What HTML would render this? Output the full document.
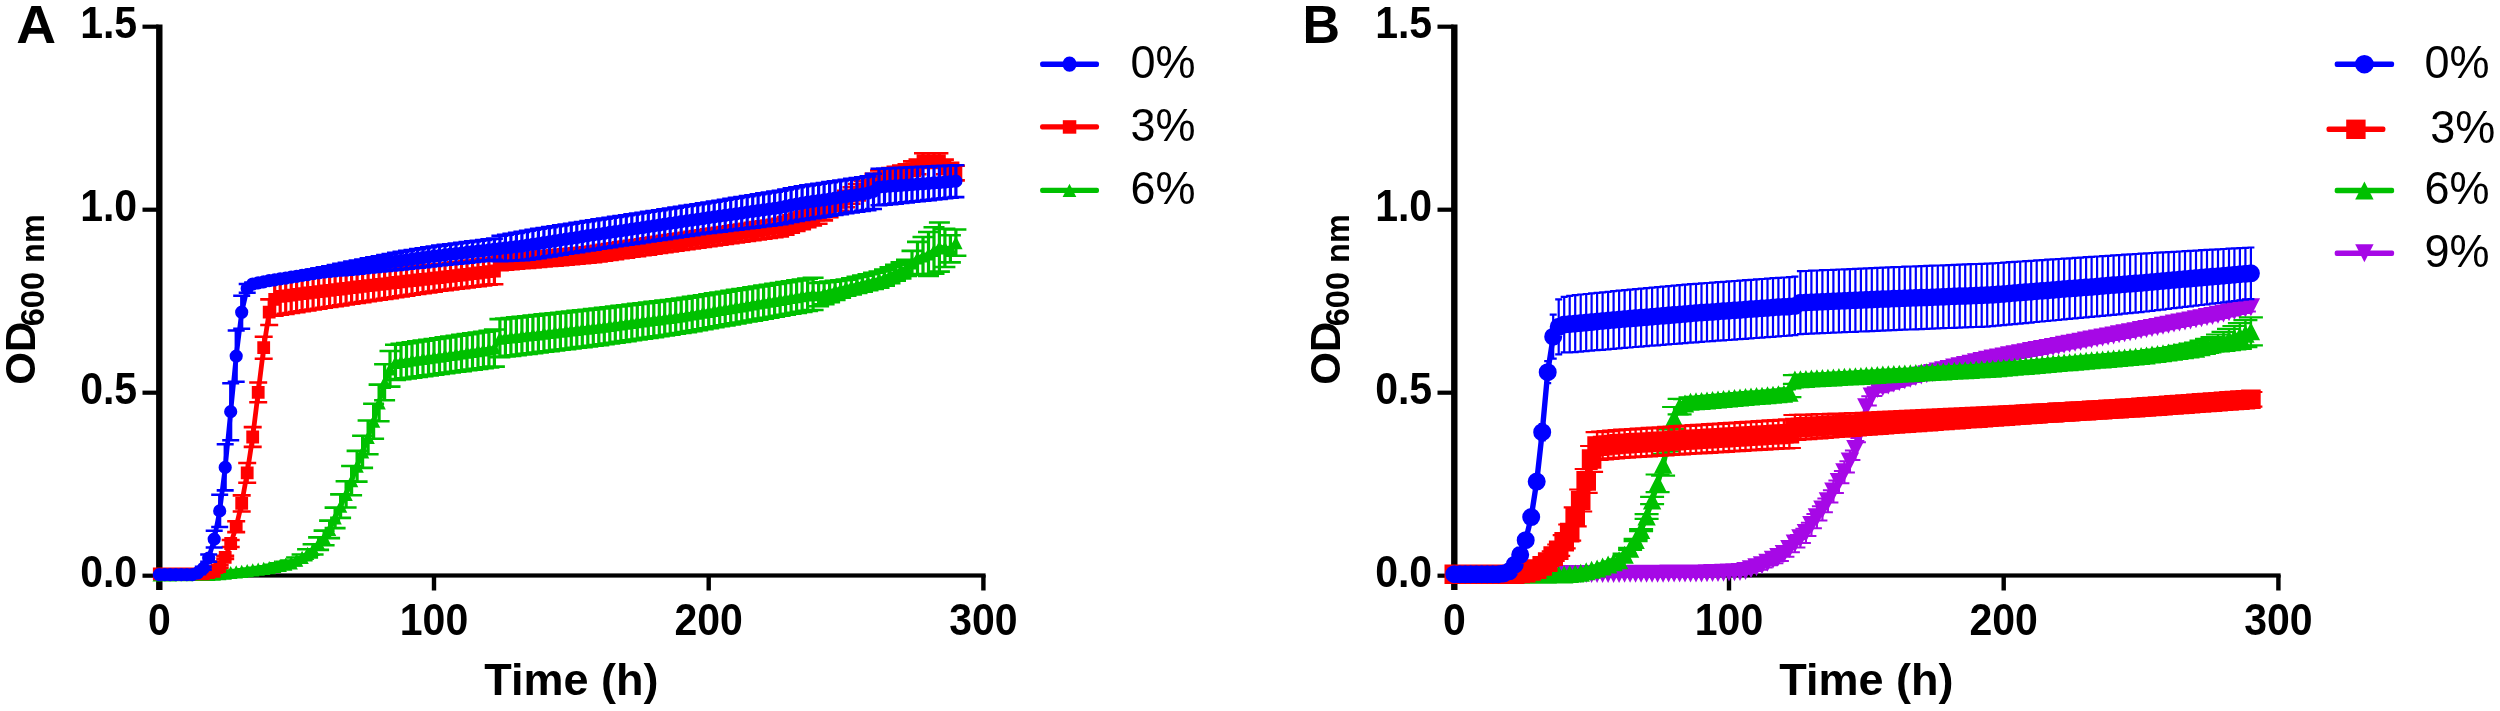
<!DOCTYPE html>
<html lang="en">
<head>
<meta charset="utf-8">
<title>Growth curves</title>
<style>
html,body{margin:0;padding:0;background:#fff;}
body{width:2500px;height:711px;overflow:hidden;}
svg{display:block;filter:blur(0.55px);}
text{font-family:"Liberation Sans",Arial,Helvetica,sans-serif;fill:#000;}
.tk{font-size:41px;font-weight:bold;}
.xt{font-size:45px;font-weight:bold;}
.yt{font-size:42px;font-weight:bold;}
.sub{font-size:32.5px;}
.pl{font-size:52px;font-weight:bold;}
.lg{font-size:45px;}
</style>
</head>
<body>
<svg width="2500" height="711" viewBox="0 0 2500 711">
<rect width="2500" height="711" fill="#fff"/>
<rect x="156.1" y="24.5" width="6.4" height="565.5" fill="#000"/>
<rect x="156.1" y="573.4" width="829.5" height="4.2" fill="#000"/>
<rect x="142.5" y="24.6" width="16" height="4.2" fill="#000"/>
<text transform="translate(137.1 38.2) scale(1 1.07)" class="tk" text-anchor="end">1.5</text>
<rect x="142.5" y="207.6" width="16" height="4.2" fill="#000"/>
<text transform="translate(137.1 221.2) scale(1 1.07)" class="tk" text-anchor="end">1.0</text>
<rect x="142.5" y="390.6" width="16" height="4.2" fill="#000"/>
<text transform="translate(137.1 404.2) scale(1 1.07)" class="tk" text-anchor="end">0.5</text>
<rect x="142.5" y="573.6" width="16" height="4.2" fill="#000"/>
<text transform="translate(137.1 587.2) scale(1 1.07)" class="tk" text-anchor="end">0.0</text>
<text transform="translate(159.3 635.3) scale(1 1.07)" class="tk" text-anchor="middle">0</text>
<rect x="431.8" y="575" width="4.4" height="15.5" fill="#000"/>
<text transform="translate(434 635.3) scale(1 1.07)" class="tk" text-anchor="middle">100</text>
<rect x="706.5" y="575" width="4.4" height="15.5" fill="#000"/>
<text transform="translate(708.7 635.3) scale(1 1.07)" class="tk" text-anchor="middle">200</text>
<rect x="981.2" y="575" width="4.4" height="15.5" fill="#000"/>
<text transform="translate(983.4 635.3) scale(1 1.07)" class="tk" text-anchor="middle">300</text>
<text transform="translate(571.3 695.4) scale(1 1)" class="xt" text-anchor="middle">Time (h)</text>
<text transform="translate(35.4 384.7) rotate(-90)" class="yt">OD<tspan class="sub" dx="-4.5" dy="9">600 nm</tspan></text>
<rect x="1451.1" y="24.5" width="6.4" height="565.5" fill="#000"/>
<rect x="1451.1" y="573.4" width="829.5" height="4.2" fill="#000"/>
<rect x="1437.5" y="24.6" width="16" height="4.2" fill="#000"/>
<text transform="translate(1432.1 38.2) scale(1 1.07)" class="tk" text-anchor="end">1.5</text>
<rect x="1437.5" y="207.6" width="16" height="4.2" fill="#000"/>
<text transform="translate(1432.1 221.2) scale(1 1.07)" class="tk" text-anchor="end">1.0</text>
<rect x="1437.5" y="390.6" width="16" height="4.2" fill="#000"/>
<text transform="translate(1432.1 404.2) scale(1 1.07)" class="tk" text-anchor="end">0.5</text>
<rect x="1437.5" y="573.6" width="16" height="4.2" fill="#000"/>
<text transform="translate(1432.1 587.2) scale(1 1.07)" class="tk" text-anchor="end">0.0</text>
<text transform="translate(1454.3 635.3) scale(1 1.07)" class="tk" text-anchor="middle">0</text>
<rect x="1726.8" y="575" width="4.4" height="15.5" fill="#000"/>
<text transform="translate(1729 635.3) scale(1 1.07)" class="tk" text-anchor="middle">100</text>
<rect x="2001.5" y="575" width="4.4" height="15.5" fill="#000"/>
<text transform="translate(2003.7 635.3) scale(1 1.07)" class="tk" text-anchor="middle">200</text>
<rect x="2276.2" y="575" width="4.4" height="15.5" fill="#000"/>
<text transform="translate(2278.4 635.3) scale(1 1.07)" class="tk" text-anchor="middle">300</text>
<text transform="translate(1866.3 695.4) scale(1 1)" class="xt" text-anchor="middle">Time (h)</text>
<text transform="translate(1340.4 384.7) rotate(-90)" class="yt">OD<tspan class="sub" dx="-4.5" dy="9">600 nm</tspan></text>
<text transform="translate(16.2 42.7) scale(1.06 1.03)" class="pl">A</text>
<text transform="translate(1302.6 42.7) scale(1 1.03)" class="pl">B</text>
<path d="M203.3 573.4V575.4M208.7 573.2V575.4M214.2 573.1V575.3M219.7 572.5V574.8M225.2 571.9V574.2M230.7 571.3V573.7M236.2 570.6V573.1M241.7 570V572.6M247.2 569.3V571.9M252.7 568.5V571.2M258.2 567.7V570.5M263.7 567V569.8M269.2 566.2V569.1M274.7 564.8V568.2M280.2 563.3V567.2M285.7 561.9V566.3M291.2 560.5V565.3M296.6 557.5V562.8M302.1 554.5V560.3M307.6 549.3V557.4M313.1 544.2V554.5M318.6 537.4V549.9M324.1 530.6V545.2M329.6 520.6V538.1M335.1 507.6V528.1M340.6 494.4V517.9M346.1 481.2V507.5M351.6 466V495.3M357.1 450.9V481.6M362.6 435.7V467.9M368.1 420.5V454.2M373.6 403.7V438.8M379.1 384.6V421.2M384.6 364.2V400.3M390 351V386.6M395.5 344.8V379.9M401 343.9V379.1M406.5 343.1V378.4M412 342.3V377.7M417.5 341.4V376.9M423 340.6V376.2M428.5 339.8V375.4M434 339V374.7M439.5 338.2V374M445 337.4V373.2M450.5 336.5V372.5M456 335.7V371.8M461.5 334.9V371.1M467 334.1V370.3M472.5 333.3V369.6M478 332.5V368.9M483.4 331.7V368.2M488.9 330.9V367.4M494.4 329.5V366.6M499.9 319.1V357.2M505.4 318.5V356.5M510.9 318V355.9M516.4 317.4V355.2M521.9 316.8V354.5M527.4 316.2V353.9M532.9 315.6V353.2M538.4 315V352.5M543.9 314.4V351.8M549.4 313.8V351.2M554.9 313.3V350.5M560.4 312.7V349.8M565.9 312.1V349.2M571.3 311.5V348.5M576.8 310.9V347.8M582.3 310.3V347.1M587.8 309.7V346.5M593.3 309.1V345.8M598.8 308.5V345.1M604.3 307.9V344.3M609.8 307.2V343.5M615.3 306.5V342.7M620.8 305.9V341.9M626.3 305.2V341.1M631.8 304.6V340.3M637.3 303.9V339.5M642.8 303.2V338.7M648.3 302.6V337.9M653.8 301.9V337.1M659.3 301.3V336.3M664.7 300.6V335.5M670.2 300V334.7M675.7 299.3V333.8M681.2 298.6V333M686.7 297.8V332.1M692.2 296.9V331.1M697.7 296V330.2M703.2 295.2V329.2M708.7 294.3V328.2M714.2 293.4V327.3M719.7 292.6V326.3M725.2 291.7V325.4M730.7 290.8V324.4M736.2 289.9V323.4M741.7 289.1V322.5M747.2 288.2V321.5M752.7 287.3V320.6M758.1 286.5V319.6M763.6 285.6V318.6M769.1 284.7V317.7M774.6 283.9V316.7M780.1 283V315.7M785.6 282.1V314.8M791.1 281.3V313.8M796.6 280.4V312.9M802.1 279.5V311.9M807.6 278.6V310.9M813.1 277.8V310M818.6 282.9V306.3M824.1 282.2V304.2M829.6 281.6V302.1M835.1 280.9V300M840.6 280.3V297.8M846 279.6V295.7M851.5 278.3V294.4M857 276.9V293M862.5 275.6V291.7M868 274.2V290.3M873.5 272.8V289M879 271.5V287.6M884.5 269.6V285.7M890 267.2V283.3M895.5 264.7V280.8M901 262.3V278.4M906.5 259.8V275.9M912 250.9V275M917.5 241.9V274.1M923 237V275M928.5 232V275.9M934 227.3V273.8M939.4 222.5V271.6M944.9 228.9V267M950.4 235.3V262.4M955.9 229.5V255.8" fill="none" stroke="#00c000" stroke-width="3.2"/>
<path d="M192.8 573.4h21M192.8 575.4h21M198.2 573.2h21M198.2 575.4h21M203.7 573.1h21M203.7 575.3h21M209.2 572.5h21M209.2 574.8h21M214.7 571.9h21M214.7 574.2h21M220.2 571.3h21M220.2 573.7h21M225.7 570.6h21M225.7 573.1h21M231.2 570h21M231.2 572.6h21M236.7 569.3h21M236.7 571.9h21M242.2 568.5h21M242.2 571.2h21M247.7 567.7h21M247.7 570.5h21M253.2 567h21M253.2 569.8h21M258.7 566.2h21M258.7 569.1h21M264.2 564.8h21M264.2 568.2h21M269.7 563.3h21M269.7 567.2h21M275.2 561.9h21M275.2 566.3h21M280.7 560.5h21M280.7 565.3h21M286.1 557.5h21M286.1 562.8h21M291.6 554.5h21M291.6 560.3h21M297.1 549.3h21M297.1 557.4h21M302.6 544.2h21M302.6 554.5h21M308.1 537.4h21M308.1 549.9h21M313.6 530.6h21M313.6 545.2h21M319.1 520.6h21M319.1 538.1h21M324.6 507.6h21M324.6 528.1h21M330.1 494.4h21M330.1 517.9h21M335.6 481.2h21M335.6 507.5h21M341.1 466h21M341.1 495.3h21M346.6 450.9h21M346.6 481.6h21M352.1 435.7h21M352.1 467.9h21M357.6 420.5h21M357.6 454.2h21M363.1 403.7h21M363.1 438.8h21M368.6 384.6h21M368.6 421.2h21M374.1 364.2h21M374.1 400.3h21M379.5 351h21M379.5 386.6h21M385 344.8h21M385 379.9h21M390.5 343.9h21M390.5 379.1h21M396 343.1h21M396 378.4h21M401.5 342.3h21M401.5 377.7h21M407 341.4h21M407 376.9h21M412.5 340.6h21M412.5 376.2h21M418 339.8h21M418 375.4h21M423.5 339h21M423.5 374.7h21M429 338.2h21M429 374h21M434.5 337.4h21M434.5 373.2h21M440 336.5h21M440 372.5h21M445.5 335.7h21M445.5 371.8h21M451 334.9h21M451 371.1h21M456.5 334.1h21M456.5 370.3h21M462 333.3h21M462 369.6h21M467.5 332.5h21M467.5 368.9h21M472.9 331.7h21M472.9 368.2h21M478.4 330.9h21M478.4 367.4h21M483.9 329.5h21M483.9 366.6h21M489.4 319.1h21M489.4 357.2h21M494.9 318.5h21M494.9 356.5h21M500.4 318h21M500.4 355.9h21M505.9 317.4h21M505.9 355.2h21M511.4 316.8h21M511.4 354.5h21M516.9 316.2h21M516.9 353.9h21M522.4 315.6h21M522.4 353.2h21M527.9 315h21M527.9 352.5h21M533.4 314.4h21M533.4 351.8h21M538.9 313.8h21M538.9 351.2h21M544.4 313.3h21M544.4 350.5h21M549.9 312.7h21M549.9 349.8h21M555.4 312.1h21M555.4 349.2h21M560.8 311.5h21M560.8 348.5h21M566.3 310.9h21M566.3 347.8h21M571.8 310.3h21M571.8 347.1h21M577.3 309.7h21M577.3 346.5h21M582.8 309.1h21M582.8 345.8h21M588.3 308.5h21M588.3 345.1h21M593.8 307.9h21M593.8 344.3h21M599.3 307.2h21M599.3 343.5h21M604.8 306.5h21M604.8 342.7h21M610.3 305.9h21M610.3 341.9h21M615.8 305.2h21M615.8 341.1h21M621.3 304.6h21M621.3 340.3h21M626.8 303.9h21M626.8 339.5h21M632.3 303.2h21M632.3 338.7h21M637.8 302.6h21M637.8 337.9h21M643.3 301.9h21M643.3 337.1h21M648.8 301.3h21M648.8 336.3h21M654.2 300.6h21M654.2 335.5h21M659.7 300h21M659.7 334.7h21M665.2 299.3h21M665.2 333.8h21M670.7 298.6h21M670.7 333h21M676.2 297.8h21M676.2 332.1h21M681.7 296.9h21M681.7 331.1h21M687.2 296h21M687.2 330.2h21M692.7 295.2h21M692.7 329.2h21M698.2 294.3h21M698.2 328.2h21M703.7 293.4h21M703.7 327.3h21M709.2 292.6h21M709.2 326.3h21M714.7 291.7h21M714.7 325.4h21M720.2 290.8h21M720.2 324.4h21M725.7 289.9h21M725.7 323.4h21M731.2 289.1h21M731.2 322.5h21M736.7 288.2h21M736.7 321.5h21M742.2 287.3h21M742.2 320.6h21M747.6 286.5h21M747.6 319.6h21M753.1 285.6h21M753.1 318.6h21M758.6 284.7h21M758.6 317.7h21M764.1 283.9h21M764.1 316.7h21M769.6 283h21M769.6 315.7h21M775.1 282.1h21M775.1 314.8h21M780.6 281.3h21M780.6 313.8h21M786.1 280.4h21M786.1 312.9h21M791.6 279.5h21M791.6 311.9h21M797.1 278.6h21M797.1 310.9h21M802.6 277.8h21M802.6 310h21M808.1 282.9h21M808.1 306.3h21M813.6 282.2h21M813.6 304.2h21M819.1 281.6h21M819.1 302.1h21M824.6 280.9h21M824.6 300h21M830.1 280.3h21M830.1 297.8h21M835.5 279.6h21M835.5 295.7h21M841 278.3h21M841 294.4h21M846.5 276.9h21M846.5 293h21M852 275.6h21M852 291.7h21M857.5 274.2h21M857.5 290.3h21M863 272.8h21M863 289h21M868.5 271.5h21M868.5 287.6h21M874 269.6h21M874 285.7h21M879.5 267.2h21M879.5 283.3h21M885 264.7h21M885 280.8h21M890.5 262.3h21M890.5 278.4h21M896 259.8h21M896 275.9h21M901.5 250.9h21M901.5 275h21M907 241.9h21M907 274.1h21M912.5 237h21M912.5 275h21M918 232h21M918 275.9h21M923.5 227.3h21M923.5 273.8h21M928.9 222.5h21M928.9 271.6h21M934.4 228.9h21M934.4 267h21M939.9 235.3h21M939.9 262.4h21M945.4 229.5h21M945.4 255.8h21" fill="none" stroke="#00c000" stroke-width="2.6"/>
<polyline points="159.3,575 164.8,574.9 170.3,574.8 175.8,574.7 181.3,574.7 186.8,574.6 192.3,574.5 197.8,574.5 203.3,574.4 208.7,574.3 214.2,574.2 219.7,573.7 225.2,573.1 230.7,572.5 236.2,571.9 241.7,571.3 247.2,570.6 252.7,569.8 258.2,569.1 263.7,568.4 269.2,567.6 274.7,566.5 280.2,565.3 285.7,564.1 291.2,562.9 296.6,560.1 302.1,557.4 307.6,553.4 313.1,549.3 318.6,543.6 324.1,537.9 329.6,529.3 335.1,517.9 340.6,506.2 346.1,494.3 351.6,480.7 357.1,466.2 362.6,451.8 368.1,437.3 373.6,421.2 379.1,402.9 384.6,382.3 390,368.8 395.5,362.3 401,361.5 406.5,360.8 412,360 417.5,359.2 423,358.4 428.5,357.6 434,356.8 439.5,356.1 445,355.3 450.5,354.5 456,353.8 461.5,353 467,352.2 472.5,351.5 478,350.7 483.4,349.9 488.9,349.2 494.4,348 499.9,338.2 505.4,337.5 510.9,336.9 516.4,336.3 521.9,335.7 527.4,335 532.9,334.4 538.4,333.8 543.9,333.1 549.4,332.5 554.9,331.9 560.4,331.2 565.9,330.6 571.3,330 576.8,329.3 582.3,328.7 587.8,328.1 593.3,327.5 598.8,326.8 604.3,326.1 609.8,325.4 615.3,324.6 620.8,323.9 626.3,323.2 631.8,322.4 637.3,321.7 642.8,321 648.3,320.2 653.8,319.5 659.3,318.8 664.7,318 670.2,317.3 675.7,316.6 681.2,315.8 686.7,314.9 692.2,314 697.7,313.1 703.2,312.2 708.7,311.3 714.2,310.4 719.7,309.4 725.2,308.5 730.7,307.6 736.2,306.7 741.7,305.8 747.2,304.9 752.7,303.9 758.1,303 763.6,302.1 769.1,301.2 774.6,300.3 780.1,299.4 785.6,298.5 791.1,297.5 796.6,296.6 802.1,295.7 807.6,294.8 813.1,293.9 818.6,294.6 824.1,293.2 829.6,291.8 835.1,290.4 840.6,289 846,287.7 851.5,286.3 857,285 862.5,283.6 868,282.3 873.5,280.9 879,279.5 884.5,277.7 890,275.2 895.5,272.8 901,270.3 906.5,267.9 912,263 917.5,258 923,256 928.5,254 934,250.5 939.4,247 944.9,247.9 950.4,248.9 955.9,242.6" fill="none" stroke="#00c000" stroke-width="4.8" stroke-linejoin="round"/>
<path d="M159.3 568.4l6.7 13.2h-13.5zM164.8 568.3l6.7 13.2h-13.5zM170.3 568.2l6.7 13.2h-13.5zM175.8 568.1l6.7 13.2h-13.5zM181.3 568.1l6.7 13.2h-13.5zM186.8 568l6.7 13.2h-13.5zM192.3 567.9l6.7 13.2h-13.5zM197.8 567.9l6.7 13.2h-13.5zM203.3 567.8l6.7 13.2h-13.5zM208.7 567.7l6.7 13.2h-13.5zM214.2 567.6l6.7 13.2h-13.5zM219.7 567.1l6.7 13.2h-13.5zM225.2 566.5l6.7 13.2h-13.5zM230.7 565.9l6.7 13.2h-13.5zM236.2 565.3l6.7 13.2h-13.5zM241.7 564.7l6.7 13.2h-13.5zM247.2 564l6.7 13.2h-13.5zM252.7 563.2l6.7 13.2h-13.5zM258.2 562.5l6.7 13.2h-13.5zM263.7 561.8l6.7 13.2h-13.5zM269.2 561l6.7 13.2h-13.5zM274.7 559.9l6.7 13.2h-13.5zM280.2 558.7l6.7 13.2h-13.5zM285.7 557.5l6.7 13.2h-13.5zM291.2 556.3l6.7 13.2h-13.5zM296.6 553.5l6.7 13.2h-13.5zM302.1 550.8l6.7 13.2h-13.5zM307.6 546.8l6.7 13.2h-13.5zM313.1 542.7l6.7 13.2h-13.5zM318.6 537l6.7 13.2h-13.5zM324.1 531.3l6.7 13.2h-13.5zM329.6 522.7l6.7 13.2h-13.5zM335.1 511.3l6.7 13.2h-13.5zM340.6 499.6l6.7 13.2h-13.5zM346.1 487.7l6.7 13.2h-13.5zM351.6 474.1l6.7 13.2h-13.5zM357.1 459.6l6.7 13.2h-13.5zM362.6 445.2l6.7 13.2h-13.5zM368.1 430.7l6.7 13.2h-13.5zM373.6 414.6l6.7 13.2h-13.5zM379.1 396.3l6.7 13.2h-13.5zM384.6 375.7l6.7 13.2h-13.5zM390 362.2l6.7 13.2h-13.5zM395.5 355.7l6.7 13.2h-13.5zM401 354.9l6.7 13.2h-13.5zM406.5 354.2l6.7 13.2h-13.5zM412 353.4l6.7 13.2h-13.5zM417.5 352.6l6.7 13.2h-13.5zM423 351.8l6.7 13.2h-13.5zM428.5 351l6.7 13.2h-13.5zM434 350.2l6.7 13.2h-13.5zM439.5 349.5l6.7 13.2h-13.5zM445 348.7l6.7 13.2h-13.5zM450.5 347.9l6.7 13.2h-13.5zM456 347.2l6.7 13.2h-13.5zM461.5 346.4l6.7 13.2h-13.5zM467 345.6l6.7 13.2h-13.5zM472.5 344.9l6.7 13.2h-13.5zM478 344.1l6.7 13.2h-13.5zM483.4 343.3l6.7 13.2h-13.5zM488.9 342.6l6.7 13.2h-13.5zM494.4 341.4l6.7 13.2h-13.5zM499.9 331.6l6.7 13.2h-13.5zM505.4 330.9l6.7 13.2h-13.5zM510.9 330.3l6.7 13.2h-13.5zM516.4 329.7l6.7 13.2h-13.5zM521.9 329.1l6.7 13.2h-13.5zM527.4 328.4l6.7 13.2h-13.5zM532.9 327.8l6.7 13.2h-13.5zM538.4 327.2l6.7 13.2h-13.5zM543.9 326.5l6.7 13.2h-13.5zM549.4 325.9l6.7 13.2h-13.5zM554.9 325.3l6.7 13.2h-13.5zM560.4 324.6l6.7 13.2h-13.5zM565.9 324l6.7 13.2h-13.5zM571.3 323.4l6.7 13.2h-13.5zM576.8 322.7l6.7 13.2h-13.5zM582.3 322.1l6.7 13.2h-13.5zM587.8 321.5l6.7 13.2h-13.5zM593.3 320.9l6.7 13.2h-13.5zM598.8 320.2l6.7 13.2h-13.5zM604.3 319.5l6.7 13.2h-13.5zM609.8 318.8l6.7 13.2h-13.5zM615.3 318l6.7 13.2h-13.5zM620.8 317.3l6.7 13.2h-13.5zM626.3 316.6l6.7 13.2h-13.5zM631.8 315.8l6.7 13.2h-13.5zM637.3 315.1l6.7 13.2h-13.5zM642.8 314.4l6.7 13.2h-13.5zM648.3 313.6l6.7 13.2h-13.5zM653.8 312.9l6.7 13.2h-13.5zM659.3 312.2l6.7 13.2h-13.5zM664.7 311.4l6.7 13.2h-13.5zM670.2 310.7l6.7 13.2h-13.5zM675.7 310l6.7 13.2h-13.5zM681.2 309.2l6.7 13.2h-13.5zM686.7 308.3l6.7 13.2h-13.5zM692.2 307.4l6.7 13.2h-13.5zM697.7 306.5l6.7 13.2h-13.5zM703.2 305.6l6.7 13.2h-13.5zM708.7 304.7l6.7 13.2h-13.5zM714.2 303.8l6.7 13.2h-13.5zM719.7 302.8l6.7 13.2h-13.5zM725.2 301.9l6.7 13.2h-13.5zM730.7 301l6.7 13.2h-13.5zM736.2 300.1l6.7 13.2h-13.5zM741.7 299.2l6.7 13.2h-13.5zM747.2 298.3l6.7 13.2h-13.5zM752.7 297.3l6.7 13.2h-13.5zM758.1 296.4l6.7 13.2h-13.5zM763.6 295.5l6.7 13.2h-13.5zM769.1 294.6l6.7 13.2h-13.5zM774.6 293.7l6.7 13.2h-13.5zM780.1 292.8l6.7 13.2h-13.5zM785.6 291.9l6.7 13.2h-13.5zM791.1 290.9l6.7 13.2h-13.5zM796.6 290l6.7 13.2h-13.5zM802.1 289.1l6.7 13.2h-13.5zM807.6 288.2l6.7 13.2h-13.5zM813.1 287.3l6.7 13.2h-13.5zM818.6 288l6.7 13.2h-13.5zM824.1 286.6l6.7 13.2h-13.5zM829.6 285.2l6.7 13.2h-13.5zM835.1 283.8l6.7 13.2h-13.5zM840.6 282.4l6.7 13.2h-13.5zM846 281.1l6.7 13.2h-13.5zM851.5 279.7l6.7 13.2h-13.5zM857 278.4l6.7 13.2h-13.5zM862.5 277l6.7 13.2h-13.5zM868 275.7l6.7 13.2h-13.5zM873.5 274.3l6.7 13.2h-13.5zM879 272.9l6.7 13.2h-13.5zM884.5 271.1l6.7 13.2h-13.5zM890 268.6l6.7 13.2h-13.5zM895.5 266.2l6.7 13.2h-13.5zM901 263.7l6.7 13.2h-13.5zM906.5 261.3l6.7 13.2h-13.5zM912 256.4l6.7 13.2h-13.5zM917.5 251.4l6.7 13.2h-13.5zM923 249.4l6.7 13.2h-13.5zM928.5 247.4l6.7 13.2h-13.5zM934 243.9l6.7 13.2h-13.5zM939.4 240.4l6.7 13.2h-13.5zM944.9 241.3l6.7 13.2h-13.5zM950.4 242.3l6.7 13.2h-13.5zM955.9 236l6.7 13.2h-13.5z" fill="#00c000"/>
<path d="M186.8 572.8V574.9M192.3 572.8V575M197.8 572.7V575M203.3 572.6V575.1M208.7 571.3V573.9M214.2 570V572.6M219.7 565.1V568M225.2 555.9V558.9M230.7 540V547M236.2 521.2V532.1M241.7 495.4V511.5M247.2 463V482.7M252.7 427.1V446.9M258.2 382.5V402.2M263.7 336.7V358.7M269.2 299.4V325M274.7 282.9V315.8M280.2 278.1V314.7M285.7 277.6V313.9M291.2 277.1V313M296.6 276.6V312.1M302.1 276.1V311.3M307.6 275.6V310.4M313.1 275.1V309.5M318.6 274.6V308.7M324.1 274.1V307.8M329.6 273.6V307M335.1 273.1V306.2M340.6 272.6V305.4M346.1 272.1V304.5M351.6 271.6V303.7M357.1 271.1V302.9M362.6 270.6V302.1M368.1 270.1V301.3M373.6 269.6V300.5M379.1 269.1V299.7M384.6 268.7V298.9M390 268.2V298.1M395.5 267.7V297.3M401 267.2V296.4M406.5 266.8V295.6M412 266.4V294.8M417.5 266V294M423 265.6V293.2M428.5 265.2V292.4M434 264.8V291.6M439.5 264.4V290.8M445 263.8V290.1M450.5 263.1V289.5M456 262.4V288.8M461.5 261.8V288.1M467 261.1V287.5M472.5 260.5V286.8M478 259.8V286.2M483.4 259.1V285.5M488.9 258.5V284.8M494.4 257.8V284.2M499.9 255.5V270.1M505.4 255V269.7M510.9 254.5V269.2M516.4 254V268.8M521.9 253.5V268.3M527.4 253V267.9M532.9 252.5V267.5M538.4 251.9V267M543.9 251.4V266.5M549.4 250.9V266M554.9 250.4V265.6M560.4 249.8V265.1M565.9 249.3V264.6M571.3 248.8V264.2M576.8 248.2V263.7M582.3 247.7V263.2M587.8 247.2V262.7M593.3 246.5V262.1M598.8 245.7V261.4M604.3 244.9V260.6M609.8 244.1V259.9M615.3 243.3V259.1M620.8 242.4V258.3M626.3 241.6V257.6M631.8 240.8V256.8M637.3 240V256.1M642.8 239.2V255.3M648.3 238.4V254.6M653.8 237.5V253.8M659.3 236.7V253M664.7 235.9V252.3M670.2 235.1V251.5M675.7 234.3V250.8M681.2 233.5V250M686.7 232.7V249.2M692.2 231.8V248.5M697.7 231V247.7M703.2 230.2V247M708.7 229.4V246.2M714.2 228.6V245.5M719.7 227.8V244.7M725.2 227V244M730.7 226.2V243.2M736.2 225.3V242.4M741.7 224.5V241.7M747.2 223.7V240.9M752.7 222.9V240.2M758.1 222.1V239.4M763.6 221.3V238.7M769.1 220.5V237.9M774.6 219.7V237.2M780.1 218.9V236.4M785.6 217.1V234.6M791.1 215.4V232.8M796.6 213.6V231M802.1 211.9V229.1M807.6 210.2V227.3M813.1 208.4V225.5M818.6 206.7V223.7M824.1 203.5V220.4M829.6 200.4V217.2M835.1 197.2V214M840.6 194V210.7M846 190.7V207.3M851.5 187.3V203.8M857 184V200.4M862.5 180.6V197M868 177.3V193.5M873.5 173.9V190.1M879 170.5V186.6M884.5 169.3V185.7M890 168V184.7M895.5 166.8V183.8M901 165.6V182.8M906.5 164.3V181.9M912 161.4V176M917.5 159.6V174.2M923 153.3V168M928.5 153.3V168M934 153.3V168M939.4 153.3V168M944.9 159.6V174.2M950.4 162.7V177.3M955.9 165.8V180.4" fill="none" stroke="#ff0000" stroke-width="3.2"/>
<path d="M177.8 572.8h18M177.8 574.9h18M183.3 572.8h18M183.3 575h18M188.8 572.7h18M188.8 575h18M194.3 572.6h18M194.3 575.1h18M199.7 571.3h18M199.7 573.9h18M205.2 570h18M205.2 572.6h18M210.7 565.1h18M210.7 568h18M216.2 555.9h18M216.2 558.9h18M221.7 540h18M221.7 547h18M227.2 521.2h18M227.2 532.1h18M232.7 495.4h18M232.7 511.5h18M238.2 463h18M238.2 482.7h18M243.7 427.1h18M243.7 446.9h18M249.2 382.5h18M249.2 402.2h18M254.7 336.7h18M254.7 358.7h18M260.2 299.4h18M260.2 325h18M265.7 282.9h18M265.7 315.8h18M271.2 278.1h18M271.2 314.7h18M276.7 277.6h18M276.7 313.9h18M282.2 277.1h18M282.2 313h18M287.6 276.6h18M287.6 312.1h18M293.1 276.1h18M293.1 311.3h18M298.6 275.6h18M298.6 310.4h18M304.1 275.1h18M304.1 309.5h18M309.6 274.6h18M309.6 308.7h18M315.1 274.1h18M315.1 307.8h18M320.6 273.6h18M320.6 307h18M326.1 273.1h18M326.1 306.2h18M331.6 272.6h18M331.6 305.4h18M337.1 272.1h18M337.1 304.5h18M342.6 271.6h18M342.6 303.7h18M348.1 271.1h18M348.1 302.9h18M353.6 270.6h18M353.6 302.1h18M359.1 270.1h18M359.1 301.3h18M364.6 269.6h18M364.6 300.5h18M370.1 269.1h18M370.1 299.7h18M375.6 268.7h18M375.6 298.9h18M381 268.2h18M381 298.1h18M386.5 267.7h18M386.5 297.3h18M392 267.2h18M392 296.4h18M397.5 266.8h18M397.5 295.6h18M403 266.4h18M403 294.8h18M408.5 266h18M408.5 294h18M414 265.6h18M414 293.2h18M419.5 265.2h18M419.5 292.4h18M425 264.8h18M425 291.6h18M430.5 264.4h18M430.5 290.8h18M436 263.8h18M436 290.1h18M441.5 263.1h18M441.5 289.5h18M447 262.4h18M447 288.8h18M452.5 261.8h18M452.5 288.1h18M458 261.1h18M458 287.5h18M463.5 260.5h18M463.5 286.8h18M469 259.8h18M469 286.2h18M474.4 259.1h18M474.4 285.5h18M479.9 258.5h18M479.9 284.8h18M485.4 257.8h18M485.4 284.2h18M490.9 255.5h18M490.9 270.1h18M496.4 255h18M496.4 269.7h18M501.9 254.5h18M501.9 269.2h18M507.4 254h18M507.4 268.8h18M512.9 253.5h18M512.9 268.3h18M518.4 253h18M518.4 267.9h18M523.9 252.5h18M523.9 267.5h18M529.4 251.9h18M529.4 267h18M534.9 251.4h18M534.9 266.5h18M540.4 250.9h18M540.4 266h18M545.9 250.4h18M545.9 265.6h18M551.4 249.8h18M551.4 265.1h18M556.9 249.3h18M556.9 264.6h18M562.3 248.8h18M562.3 264.2h18M567.8 248.2h18M567.8 263.7h18M573.3 247.7h18M573.3 263.2h18M578.8 247.2h18M578.8 262.7h18M584.3 246.5h18M584.3 262.1h18M589.8 245.7h18M589.8 261.4h18M595.3 244.9h18M595.3 260.6h18M600.8 244.1h18M600.8 259.9h18M606.3 243.3h18M606.3 259.1h18M611.8 242.4h18M611.8 258.3h18M617.3 241.6h18M617.3 257.6h18M622.8 240.8h18M622.8 256.8h18M628.3 240h18M628.3 256.1h18M633.8 239.2h18M633.8 255.3h18M639.3 238.4h18M639.3 254.6h18M644.8 237.5h18M644.8 253.8h18M650.3 236.7h18M650.3 253h18M655.7 235.9h18M655.7 252.3h18M661.2 235.1h18M661.2 251.5h18M666.7 234.3h18M666.7 250.8h18M672.2 233.5h18M672.2 250h18M677.7 232.7h18M677.7 249.2h18M683.2 231.8h18M683.2 248.5h18M688.7 231h18M688.7 247.7h18M694.2 230.2h18M694.2 247h18M699.7 229.4h18M699.7 246.2h18M705.2 228.6h18M705.2 245.5h18M710.7 227.8h18M710.7 244.7h18M716.2 227h18M716.2 244h18M721.7 226.2h18M721.7 243.2h18M727.2 225.3h18M727.2 242.4h18M732.7 224.5h18M732.7 241.7h18M738.2 223.7h18M738.2 240.9h18M743.7 222.9h18M743.7 240.2h18M749.1 222.1h18M749.1 239.4h18M754.6 221.3h18M754.6 238.7h18M760.1 220.5h18M760.1 237.9h18M765.6 219.7h18M765.6 237.2h18M771.1 218.9h18M771.1 236.4h18M776.6 217.1h18M776.6 234.6h18M782.1 215.4h18M782.1 232.8h18M787.6 213.6h18M787.6 231h18M793.1 211.9h18M793.1 229.1h18M798.6 210.2h18M798.6 227.3h18M804.1 208.4h18M804.1 225.5h18M809.6 206.7h18M809.6 223.7h18M815.1 203.5h18M815.1 220.4h18M820.6 200.4h18M820.6 217.2h18M826.1 197.2h18M826.1 214h18M831.6 194h18M831.6 210.7h18M837 190.7h18M837 207.3h18M842.5 187.3h18M842.5 203.8h18M848 184h18M848 200.4h18M853.5 180.6h18M853.5 197h18M859 177.3h18M859 193.5h18M864.5 173.9h18M864.5 190.1h18M870 170.5h18M870 186.6h18M875.5 169.3h18M875.5 185.7h18M881 168h18M881 184.7h18M886.5 166.8h18M886.5 183.8h18M892 165.6h18M892 182.8h18M897.5 164.3h18M897.5 181.9h18M903 161.4h18M903 176h18M908.5 159.6h18M908.5 174.2h18M914 153.3h18M914 168h18M919.5 153.3h18M919.5 168h18M925 153.3h18M925 168h18M930.4 153.3h18M930.4 168h18M935.9 159.6h18M935.9 174.2h18M941.4 162.7h18M941.4 177.3h18M946.9 165.8h18M946.9 180.4h18" fill="none" stroke="#ff0000" stroke-width="2.6"/>
<polyline points="159.3,573.9 164.8,573.9 170.3,573.9 175.8,573.9 181.3,573.9 186.8,573.9 192.3,573.9 197.8,573.9 203.3,573.9 208.7,572.6 214.2,571.3 219.7,566.6 225.2,557.4 230.7,543.5 236.2,526.7 241.7,503.4 247.2,472.9 252.7,437 258.2,392.3 263.7,347.7 269.2,312.2 274.7,299.4 280.2,296.4 285.7,295.8 291.2,295.1 296.6,294.4 302.1,293.7 307.6,293 313.1,292.3 318.6,291.6 324.1,291 329.6,290.3 335.1,289.6 340.6,289 346.1,288.3 351.6,287.7 357.1,287 362.6,286.4 368.1,285.7 373.6,285.1 379.1,284.4 384.6,283.8 390,283.1 395.5,282.5 401,281.8 406.5,281.2 412,280.6 417.5,280 423,279.4 428.5,278.8 434,278.2 439.5,277.6 445,276.9 450.5,276.3 456,275.6 461.5,275 467,274.3 472.5,273.6 478,273 483.4,272.3 488.9,271.7 494.4,271 499.9,262.8 505.4,262.3 510.9,261.8 516.4,261.4 521.9,260.9 527.4,260.4 532.9,260 538.4,259.5 543.9,259 549.4,258.5 554.9,258 560.4,257.5 565.9,257 571.3,256.5 576.8,256 582.3,255.5 587.8,255 593.3,254.3 598.8,253.5 604.3,252.8 609.8,252 615.3,251.2 620.8,250.4 626.3,249.6 631.8,248.8 637.3,248 642.8,247.2 648.3,246.5 653.8,245.7 659.3,244.9 664.7,244.1 670.2,243.3 675.7,242.5 681.2,241.7 686.7,240.9 692.2,240.2 697.7,239.4 703.2,238.6 708.7,237.8 714.2,237 719.7,236.2 725.2,235.5 730.7,234.7 736.2,233.9 741.7,233.1 747.2,232.3 752.7,231.5 758.1,230.8 763.6,230 769.1,229.2 774.6,228.4 780.1,227.6 785.6,225.9 791.1,224.1 796.6,222.3 802.1,220.5 807.6,218.7 813.1,217 818.6,215.2 824.1,212 829.6,208.8 835.1,205.6 840.6,202.4 846,199 851.5,195.6 857,192.2 862.5,188.8 868,185.4 873.5,182 879,178.6 884.5,177.5 890,176.4 895.5,175.3 901,174.2 906.5,173.1 912,168.7 917.5,166.9 923,160.7 928.5,160.7 934,160.7 939.4,160.7 944.9,166.9 950.4,170 955.9,173.1" fill="none" stroke="#ff0000" stroke-width="4.8" stroke-linejoin="round"/>
<path d="M152.9 567.5h12.8v12.8h-12.8zM158.4 567.5h12.8v12.8h-12.8zM163.9 567.5h12.8v12.8h-12.8zM169.4 567.5h12.8v12.8h-12.8zM174.9 567.5h12.8v12.8h-12.8zM180.4 567.5h12.8v12.8h-12.8zM185.9 567.5h12.8v12.8h-12.8zM191.4 567.5h12.8v12.8h-12.8zM196.9 567.5h12.8v12.8h-12.8zM202.3 566.2h12.8v12.8h-12.8zM207.8 564.9h12.8v12.8h-12.8zM213.3 560.2h12.8v12.8h-12.8zM218.8 551h12.8v12.8h-12.8zM224.3 537.1h12.8v12.8h-12.8zM229.8 520.3h12.8v12.8h-12.8zM235.3 497h12.8v12.8h-12.8zM240.8 466.5h12.8v12.8h-12.8zM246.3 430.6h12.8v12.8h-12.8zM251.8 385.9h12.8v12.8h-12.8zM257.3 341.3h12.8v12.8h-12.8zM262.8 305.8h12.8v12.8h-12.8zM268.3 293h12.8v12.8h-12.8zM273.8 290h12.8v12.8h-12.8zM279.3 289.4h12.8v12.8h-12.8zM284.8 288.7h12.8v12.8h-12.8zM290.2 288h12.8v12.8h-12.8zM295.7 287.3h12.8v12.8h-12.8zM301.2 286.6h12.8v12.8h-12.8zM306.7 285.9h12.8v12.8h-12.8zM312.2 285.2h12.8v12.8h-12.8zM317.7 284.6h12.8v12.8h-12.8zM323.2 283.9h12.8v12.8h-12.8zM328.7 283.2h12.8v12.8h-12.8zM334.2 282.6h12.8v12.8h-12.8zM339.7 281.9h12.8v12.8h-12.8zM345.2 281.3h12.8v12.8h-12.8zM350.7 280.6h12.8v12.8h-12.8zM356.2 280h12.8v12.8h-12.8zM361.7 279.3h12.8v12.8h-12.8zM367.2 278.7h12.8v12.8h-12.8zM372.7 278h12.8v12.8h-12.8zM378.2 277.4h12.8v12.8h-12.8zM383.6 276.7h12.8v12.8h-12.8zM389.1 276.1h12.8v12.8h-12.8zM394.6 275.4h12.8v12.8h-12.8zM400.1 274.8h12.8v12.8h-12.8zM405.6 274.2h12.8v12.8h-12.8zM411.1 273.6h12.8v12.8h-12.8zM416.6 273h12.8v12.8h-12.8zM422.1 272.4h12.8v12.8h-12.8zM427.6 271.8h12.8v12.8h-12.8zM433.1 271.2h12.8v12.8h-12.8zM438.6 270.5h12.8v12.8h-12.8zM444.1 269.9h12.8v12.8h-12.8zM449.6 269.2h12.8v12.8h-12.8zM455.1 268.6h12.8v12.8h-12.8zM460.6 267.9h12.8v12.8h-12.8zM466.1 267.2h12.8v12.8h-12.8zM471.6 266.6h12.8v12.8h-12.8zM477 265.9h12.8v12.8h-12.8zM482.5 265.3h12.8v12.8h-12.8zM488 264.6h12.8v12.8h-12.8zM493.5 256.4h12.8v12.8h-12.8zM499 255.9h12.8v12.8h-12.8zM504.5 255.4h12.8v12.8h-12.8zM510 255h12.8v12.8h-12.8zM515.5 254.5h12.8v12.8h-12.8zM521 254h12.8v12.8h-12.8zM526.5 253.6h12.8v12.8h-12.8zM532 253.1h12.8v12.8h-12.8zM537.5 252.6h12.8v12.8h-12.8zM543 252.1h12.8v12.8h-12.8zM548.5 251.6h12.8v12.8h-12.8zM554 251.1h12.8v12.8h-12.8zM559.5 250.6h12.8v12.8h-12.8zM564.9 250.1h12.8v12.8h-12.8zM570.4 249.6h12.8v12.8h-12.8zM575.9 249.1h12.8v12.8h-12.8zM581.4 248.6h12.8v12.8h-12.8zM586.9 247.9h12.8v12.8h-12.8zM592.4 247.1h12.8v12.8h-12.8zM597.9 246.4h12.8v12.8h-12.8zM603.4 245.6h12.8v12.8h-12.8zM608.9 244.8h12.8v12.8h-12.8zM614.4 244h12.8v12.8h-12.8zM619.9 243.2h12.8v12.8h-12.8zM625.4 242.4h12.8v12.8h-12.8zM630.9 241.6h12.8v12.8h-12.8zM636.4 240.8h12.8v12.8h-12.8zM641.9 240.1h12.8v12.8h-12.8zM647.4 239.3h12.8v12.8h-12.8zM652.9 238.5h12.8v12.8h-12.8zM658.3 237.7h12.8v12.8h-12.8zM663.8 236.9h12.8v12.8h-12.8zM669.3 236.1h12.8v12.8h-12.8zM674.8 235.3h12.8v12.8h-12.8zM680.3 234.5h12.8v12.8h-12.8zM685.8 233.8h12.8v12.8h-12.8zM691.3 233h12.8v12.8h-12.8zM696.8 232.2h12.8v12.8h-12.8zM702.3 231.4h12.8v12.8h-12.8zM707.8 230.6h12.8v12.8h-12.8zM713.3 229.8h12.8v12.8h-12.8zM718.8 229.1h12.8v12.8h-12.8zM724.3 228.3h12.8v12.8h-12.8zM729.8 227.5h12.8v12.8h-12.8zM735.3 226.7h12.8v12.8h-12.8zM740.8 225.9h12.8v12.8h-12.8zM746.3 225.1h12.8v12.8h-12.8zM751.7 224.4h12.8v12.8h-12.8zM757.2 223.6h12.8v12.8h-12.8zM762.7 222.8h12.8v12.8h-12.8zM768.2 222h12.8v12.8h-12.8zM773.7 221.2h12.8v12.8h-12.8zM779.2 219.5h12.8v12.8h-12.8zM784.7 217.7h12.8v12.8h-12.8zM790.2 215.9h12.8v12.8h-12.8zM795.7 214.1h12.8v12.8h-12.8zM801.2 212.3h12.8v12.8h-12.8zM806.7 210.6h12.8v12.8h-12.8zM812.2 208.8h12.8v12.8h-12.8zM817.7 205.6h12.8v12.8h-12.8zM823.2 202.4h12.8v12.8h-12.8zM828.7 199.2h12.8v12.8h-12.8zM834.2 196h12.8v12.8h-12.8zM839.6 192.6h12.8v12.8h-12.8zM845.1 189.2h12.8v12.8h-12.8zM850.6 185.8h12.8v12.8h-12.8zM856.1 182.4h12.8v12.8h-12.8zM861.6 179h12.8v12.8h-12.8zM867.1 175.6h12.8v12.8h-12.8zM872.6 172.2h12.8v12.8h-12.8zM878.1 171.1h12.8v12.8h-12.8zM883.6 170h12.8v12.8h-12.8zM889.1 168.9h12.8v12.8h-12.8zM894.6 167.8h12.8v12.8h-12.8zM900.1 166.7h12.8v12.8h-12.8zM905.6 162.3h12.8v12.8h-12.8zM911.1 160.5h12.8v12.8h-12.8zM916.6 154.3h12.8v12.8h-12.8zM922.1 154.3h12.8v12.8h-12.8zM927.6 154.3h12.8v12.8h-12.8zM933 154.3h12.8v12.8h-12.8zM938.5 160.5h12.8v12.8h-12.8zM944 163.6h12.8v12.8h-12.8zM949.5 166.7h12.8v12.8h-12.8z" fill="#ff0000"/>
<path d="M175.8 573.6V575.6M181.3 573.5V575.7M186.8 573.4V575.8M192.3 573.3V575.9M197.8 571.4V574.1M203.3 566.9V569.8M208.7 554.5V561.8M214.2 530.7V547.5M219.7 494.8V527M225.2 444.3V490.4M230.7 383.2V440.3M236.2 330.5V381.7M241.7 295.7V328.7M247.2 284V292.8M252.7 282.5V285.5M258.2 281.3V284.5M263.7 280V283.6M269.2 278.7V282.7M274.7 277.6V282M280.2 276.6V281.3M285.7 275.5V280.6M291.2 274.4V279.9M296.6 273.4V279.2M302.1 272.2V278.7M307.6 271V278.1M313.1 269.8V277.6M318.6 268.6V277M324.1 267.3V276.5M329.6 266.2V276M335.1 265.1V275.5M340.6 263.9V275.1M346.1 262.8V274.6M351.6 261.6V274.1M357.1 260.6V273.6M362.6 259.5V273M368.1 258.4V272.5M373.6 257.3V272M379.1 256.2V271.5M384.6 255.1V270.9M390 254V270.4M395.5 252.9V269.9M401 251.8V269.4M406.5 250.9V268.8M412 250V268.2M417.5 249.1V267.6M423 248.2V267.1M428.5 247.3V266.5M434 246.5V265.9M439.5 245.6V265.3M445 244.9V264.8M450.5 244.2V264.2M456 243.5V263.7M461.5 242.8V263.1M467 242.1V262.6M472.5 241.4V262M478 240.7V261.5M483.4 240V260.9M488.9 239.3V260.4M494.4 238.6V259.8M499.9 235.7V261.3M505.4 234.8V261M510.9 233.8V260.8M516.4 232.9V260.5M521.9 231.9V260.2M527.4 230.7V259.7M532.9 229.7V259M538.4 228.8V258.1M543.9 228V257.3M549.4 227.1V256.4M554.9 226.3V255.5M560.4 225.4V254.7M565.9 224.5V253.8M571.3 223.7V253M576.8 222.8V252.1M582.3 222V251.2M587.8 221.1V250.4M593.3 220.3V249.6M598.8 219.4V248.8M604.3 218.6V247.9M609.8 217.7V247.1M615.3 216.9V246.3M620.8 216.1V245.5M626.3 215.2V244.7M631.8 214.4V243.9M637.3 213.5V243.1M642.8 212.7V242.3M648.3 211.8V241.5M653.8 211V240.7M659.3 210.2V239.9M664.7 209.3V239.1M670.2 208.5V238.3M675.7 207.6V237.5M681.2 206.8V236.7M686.7 205.9V235.9M692.2 205.1V235.1M697.7 204.3V234.3M703.2 203.4V233.5M708.7 202.5V232.9M714.2 201.6V232.2M719.7 200.7V231.6M725.2 199.8V230.9M730.7 198.8V230.2M736.2 197.9V229.6M741.7 197V228.9M747.2 196.1V228.3M752.7 195.2V227.6M758.1 194.3V227M763.6 193.4V226.3M769.1 192.5V225.7M774.6 191.6V225M780.1 190.7V224.3M785.6 189.5V223.2M791.1 188.4V222M796.6 187.2V220.9M802.1 186.2V219.9M807.6 185.4V219.1M813.1 184.6V218.3M818.6 183.8V217.4M824.1 183V216.6M829.6 182.1V215.8M835.1 181.3V215M840.6 180.5V214.2M846 179.7V213.3M851.5 178.9V212.5M857 178V211.7M862.5 177.2V210.9M868 176.4V210.1M873.5 173.8V209M879 168.7V205.3M884.5 168.5V204.7M890 168.2V204.2M895.5 168V203.6M901 167.8V203M906.5 167.5V202.4M912 167.3V201.8M917.5 167.1V201.3M923 166.8V200.7M928.5 166.6V200.1M934 166.3V199.5M939.4 166.1V198.9M944.9 165.8V198.3M950.4 165.6V197.7M955.9 165.3V197.1" fill="none" stroke="#0000ff" stroke-width="3.2"/>
<path d="M167.3 573.6h17M167.3 575.6h17M172.8 573.5h17M172.8 575.7h17M178.3 573.4h17M178.3 575.8h17M183.8 573.3h17M183.8 575.9h17M189.3 571.4h17M189.3 574.1h17M194.8 566.9h17M194.8 569.8h17M200.2 554.5h17M200.2 561.8h17M205.7 530.7h17M205.7 547.5h17M211.2 494.8h17M211.2 527h17M216.7 444.3h17M216.7 490.4h17M222.2 383.2h17M222.2 440.3h17M227.7 330.5h17M227.7 381.7h17M233.2 295.7h17M233.2 328.7h17M238.7 284h17M238.7 292.8h17M244.2 282.5h17M244.2 285.5h17M249.7 281.3h17M249.7 284.5h17M255.2 280h17M255.2 283.6h17M260.7 278.7h17M260.7 282.7h17M266.2 277.6h17M266.2 282h17M271.7 276.6h17M271.7 281.3h17M277.2 275.5h17M277.2 280.6h17M282.7 274.4h17M282.7 279.9h17M288.1 273.4h17M288.1 279.2h17M293.6 272.2h17M293.6 278.7h17M299.1 271h17M299.1 278.1h17M304.6 269.8h17M304.6 277.6h17M310.1 268.6h17M310.1 277h17M315.6 267.3h17M315.6 276.5h17M321.1 266.2h17M321.1 276h17M326.6 265.1h17M326.6 275.5h17M332.1 263.9h17M332.1 275.1h17M337.6 262.8h17M337.6 274.6h17M343.1 261.6h17M343.1 274.1h17M348.6 260.6h17M348.6 273.6h17M354.1 259.5h17M354.1 273h17M359.6 258.4h17M359.6 272.5h17M365.1 257.3h17M365.1 272h17M370.6 256.2h17M370.6 271.5h17M376.1 255.1h17M376.1 270.9h17M381.5 254h17M381.5 270.4h17M387 252.9h17M387 269.9h17M392.5 251.8h17M392.5 269.4h17M398 250.9h17M398 268.8h17M403.5 250h17M403.5 268.2h17M409 249.1h17M409 267.6h17M414.5 248.2h17M414.5 267.1h17M420 247.3h17M420 266.5h17M425.5 246.5h17M425.5 265.9h17M431 245.6h17M431 265.3h17M436.5 244.9h17M436.5 264.8h17M442 244.2h17M442 264.2h17M447.5 243.5h17M447.5 263.7h17M453 242.8h17M453 263.1h17M458.5 242.1h17M458.5 262.6h17M464 241.4h17M464 262h17M469.5 240.7h17M469.5 261.5h17M474.9 240h17M474.9 260.9h17M480.4 239.3h17M480.4 260.4h17M485.9 238.6h17M485.9 259.8h17M491.4 235.7h17M491.4 261.3h17M496.9 234.8h17M496.9 261h17M502.4 233.8h17M502.4 260.8h17M507.9 232.9h17M507.9 260.5h17M513.4 231.9h17M513.4 260.2h17M518.9 230.7h17M518.9 259.7h17M524.4 229.7h17M524.4 259h17M529.9 228.8h17M529.9 258.1h17M535.4 228h17M535.4 257.3h17M540.9 227.1h17M540.9 256.4h17M546.4 226.3h17M546.4 255.5h17M551.9 225.4h17M551.9 254.7h17M557.4 224.5h17M557.4 253.8h17M562.8 223.7h17M562.8 253h17M568.3 222.8h17M568.3 252.1h17M573.8 222h17M573.8 251.2h17M579.3 221.1h17M579.3 250.4h17M584.8 220.3h17M584.8 249.6h17M590.3 219.4h17M590.3 248.8h17M595.8 218.6h17M595.8 247.9h17M601.3 217.7h17M601.3 247.1h17M606.8 216.9h17M606.8 246.3h17M612.3 216.1h17M612.3 245.5h17M617.8 215.2h17M617.8 244.7h17M623.3 214.4h17M623.3 243.9h17M628.8 213.5h17M628.8 243.1h17M634.3 212.7h17M634.3 242.3h17M639.8 211.8h17M639.8 241.5h17M645.3 211h17M645.3 240.7h17M650.8 210.2h17M650.8 239.9h17M656.2 209.3h17M656.2 239.1h17M661.7 208.5h17M661.7 238.3h17M667.2 207.6h17M667.2 237.5h17M672.7 206.8h17M672.7 236.7h17M678.2 205.9h17M678.2 235.9h17M683.7 205.1h17M683.7 235.1h17M689.2 204.3h17M689.2 234.3h17M694.7 203.4h17M694.7 233.5h17M700.2 202.5h17M700.2 232.9h17M705.7 201.6h17M705.7 232.2h17M711.2 200.7h17M711.2 231.6h17M716.7 199.8h17M716.7 230.9h17M722.2 198.8h17M722.2 230.2h17M727.7 197.9h17M727.7 229.6h17M733.2 197h17M733.2 228.9h17M738.7 196.1h17M738.7 228.3h17M744.2 195.2h17M744.2 227.6h17M749.6 194.3h17M749.6 227h17M755.1 193.4h17M755.1 226.3h17M760.6 192.5h17M760.6 225.7h17M766.1 191.6h17M766.1 225h17M771.6 190.7h17M771.6 224.3h17M777.1 189.5h17M777.1 223.2h17M782.6 188.4h17M782.6 222h17M788.1 187.2h17M788.1 220.9h17M793.6 186.2h17M793.6 219.9h17M799.1 185.4h17M799.1 219.1h17M804.6 184.6h17M804.6 218.3h17M810.1 183.8h17M810.1 217.4h17M815.6 183h17M815.6 216.6h17M821.1 182.1h17M821.1 215.8h17M826.6 181.3h17M826.6 215h17M832.1 180.5h17M832.1 214.2h17M837.5 179.7h17M837.5 213.3h17M843 178.9h17M843 212.5h17M848.5 178h17M848.5 211.7h17M854 177.2h17M854 210.9h17M859.5 176.4h17M859.5 210.1h17M865 173.8h17M865 209h17M870.5 168.7h17M870.5 205.3h17M876 168.5h17M876 204.7h17M881.5 168.2h17M881.5 204.2h17M887 168h17M887 203.6h17M892.5 167.8h17M892.5 203h17M898 167.5h17M898 202.4h17M903.5 167.3h17M903.5 201.8h17M909 167.1h17M909 201.3h17M914.5 166.8h17M914.5 200.7h17M920 166.6h17M920 200.1h17M925.5 166.3h17M925.5 199.5h17M930.9 166.1h17M930.9 198.9h17M936.4 165.8h17M936.4 198.3h17M941.9 165.6h17M941.9 197.7h17M947.4 165.3h17M947.4 197.1h17" fill="none" stroke="#0000ff" stroke-width="2.6"/>
<polyline points="159.3,574.6 164.8,574.6 170.3,574.6 175.8,574.6 181.3,574.6 186.8,574.6 192.3,574.6 197.8,572.8 203.3,568.4 208.7,558.1 214.2,539.1 219.7,510.9 225.2,467.4 230.7,411.7 236.2,356.1 241.7,312.2 247.2,288.4 252.7,284 258.2,282.9 263.7,281.8 269.2,280.7 274.7,279.8 280.2,278.9 285.7,278.1 291.2,277.2 296.6,276.3 302.1,275.4 307.6,274.6 313.1,273.7 318.6,272.8 324.1,271.9 329.6,271.1 335.1,270.3 340.6,269.5 346.1,268.7 351.6,267.9 357.1,267.1 362.6,266.2 368.1,265.4 373.6,264.6 379.1,263.8 384.6,263 390,262.2 395.5,261.4 401,260.6 406.5,259.8 412,259.1 417.5,258.4 423,257.6 428.5,256.9 434,256.2 439.5,255.5 445,254.8 450.5,254.2 456,253.6 461.5,253 467,252.3 472.5,251.7 478,251.1 483.4,250.5 488.9,249.9 494.4,249.2 499.9,248.5 505.4,247.9 510.9,247.3 516.4,246.7 521.9,246 527.4,245.2 532.9,244.3 538.4,243.5 543.9,242.6 549.4,241.8 554.9,240.9 560.4,240 565.9,239.2 571.3,238.3 576.8,237.5 582.3,236.6 587.8,235.7 593.3,234.9 598.8,234.1 604.3,233.3 609.8,232.4 615.3,231.6 620.8,230.8 626.3,230 631.8,229.1 637.3,228.3 642.8,227.5 648.3,226.7 653.8,225.8 659.3,225 664.7,224.2 670.2,223.4 675.7,222.6 681.2,221.7 686.7,220.9 692.2,220.1 697.7,219.3 703.2,218.5 708.7,217.7 714.2,216.9 719.7,216.1 725.2,215.3 730.7,214.5 736.2,213.8 741.7,213 747.2,212.2 752.7,211.4 758.1,210.6 763.6,209.9 769.1,209.1 774.6,208.3 780.1,207.5 785.6,206.4 791.1,205.2 796.6,204.1 802.1,203.1 807.6,202.2 813.1,201.4 818.6,200.6 824.1,199.8 829.6,199 835.1,198.1 840.6,197.3 846,196.5 851.5,195.7 857,194.9 862.5,194 868,193.2 873.5,191.4 879,187 884.5,186.6 890,186.2 895.5,185.8 901,185.4 906.5,185 912,184.6 917.5,184.2 923,183.8 928.5,183.3 934,182.9 939.4,182.5 944.9,182.1 950.4,181.6 955.9,181.2" fill="none" stroke="#0000ff" stroke-width="4.8" stroke-linejoin="round"/>
<path d="M152.7 574.6a6.6 6.6 0 1 0 13.2 0a6.6 6.6 0 1 0 -13.2 0zM158.2 574.6a6.6 6.6 0 1 0 13.2 0a6.6 6.6 0 1 0 -13.2 0zM163.7 574.6a6.6 6.6 0 1 0 13.2 0a6.6 6.6 0 1 0 -13.2 0zM169.2 574.6a6.6 6.6 0 1 0 13.2 0a6.6 6.6 0 1 0 -13.2 0zM174.7 574.6a6.6 6.6 0 1 0 13.2 0a6.6 6.6 0 1 0 -13.2 0zM180.2 574.6a6.6 6.6 0 1 0 13.2 0a6.6 6.6 0 1 0 -13.2 0zM185.7 574.6a6.6 6.6 0 1 0 13.2 0a6.6 6.6 0 1 0 -13.2 0zM191.2 572.8a6.6 6.6 0 1 0 13.2 0a6.6 6.6 0 1 0 -13.2 0zM196.7 568.4a6.6 6.6 0 1 0 13.2 0a6.6 6.6 0 1 0 -13.2 0zM202.1 558.1a6.6 6.6 0 1 0 13.2 0a6.6 6.6 0 1 0 -13.2 0zM207.6 539.1a6.6 6.6 0 1 0 13.2 0a6.6 6.6 0 1 0 -13.2 0zM213.1 510.9a6.6 6.6 0 1 0 13.2 0a6.6 6.6 0 1 0 -13.2 0zM218.6 467.4a6.6 6.6 0 1 0 13.2 0a6.6 6.6 0 1 0 -13.2 0zM224.1 411.7a6.6 6.6 0 1 0 13.2 0a6.6 6.6 0 1 0 -13.2 0zM229.6 356.1a6.6 6.6 0 1 0 13.2 0a6.6 6.6 0 1 0 -13.2 0zM235.1 312.2a6.6 6.6 0 1 0 13.2 0a6.6 6.6 0 1 0 -13.2 0zM240.6 288.4a6.6 6.6 0 1 0 13.2 0a6.6 6.6 0 1 0 -13.2 0zM246.1 284a6.6 6.6 0 1 0 13.2 0a6.6 6.6 0 1 0 -13.2 0zM251.6 282.9a6.6 6.6 0 1 0 13.2 0a6.6 6.6 0 1 0 -13.2 0zM257.1 281.8a6.6 6.6 0 1 0 13.2 0a6.6 6.6 0 1 0 -13.2 0zM262.6 280.7a6.6 6.6 0 1 0 13.2 0a6.6 6.6 0 1 0 -13.2 0zM268.1 279.8a6.6 6.6 0 1 0 13.2 0a6.6 6.6 0 1 0 -13.2 0zM273.6 278.9a6.6 6.6 0 1 0 13.2 0a6.6 6.6 0 1 0 -13.2 0zM279.1 278.1a6.6 6.6 0 1 0 13.2 0a6.6 6.6 0 1 0 -13.2 0zM284.6 277.2a6.6 6.6 0 1 0 13.2 0a6.6 6.6 0 1 0 -13.2 0zM290 276.3a6.6 6.6 0 1 0 13.2 0a6.6 6.6 0 1 0 -13.2 0zM295.5 275.4a6.6 6.6 0 1 0 13.2 0a6.6 6.6 0 1 0 -13.2 0zM301 274.6a6.6 6.6 0 1 0 13.2 0a6.6 6.6 0 1 0 -13.2 0zM306.5 273.7a6.6 6.6 0 1 0 13.2 0a6.6 6.6 0 1 0 -13.2 0zM312 272.8a6.6 6.6 0 1 0 13.2 0a6.6 6.6 0 1 0 -13.2 0zM317.5 271.9a6.6 6.6 0 1 0 13.2 0a6.6 6.6 0 1 0 -13.2 0zM323 271.1a6.6 6.6 0 1 0 13.2 0a6.6 6.6 0 1 0 -13.2 0zM328.5 270.3a6.6 6.6 0 1 0 13.2 0a6.6 6.6 0 1 0 -13.2 0zM334 269.5a6.6 6.6 0 1 0 13.2 0a6.6 6.6 0 1 0 -13.2 0zM339.5 268.7a6.6 6.6 0 1 0 13.2 0a6.6 6.6 0 1 0 -13.2 0zM345 267.9a6.6 6.6 0 1 0 13.2 0a6.6 6.6 0 1 0 -13.2 0zM350.5 267.1a6.6 6.6 0 1 0 13.2 0a6.6 6.6 0 1 0 -13.2 0zM356 266.2a6.6 6.6 0 1 0 13.2 0a6.6 6.6 0 1 0 -13.2 0zM361.5 265.4a6.6 6.6 0 1 0 13.2 0a6.6 6.6 0 1 0 -13.2 0zM367 264.6a6.6 6.6 0 1 0 13.2 0a6.6 6.6 0 1 0 -13.2 0zM372.5 263.8a6.6 6.6 0 1 0 13.2 0a6.6 6.6 0 1 0 -13.2 0zM378 263a6.6 6.6 0 1 0 13.2 0a6.6 6.6 0 1 0 -13.2 0zM383.4 262.2a6.6 6.6 0 1 0 13.2 0a6.6 6.6 0 1 0 -13.2 0zM388.9 261.4a6.6 6.6 0 1 0 13.2 0a6.6 6.6 0 1 0 -13.2 0zM394.4 260.6a6.6 6.6 0 1 0 13.2 0a6.6 6.6 0 1 0 -13.2 0zM399.9 259.8a6.6 6.6 0 1 0 13.2 0a6.6 6.6 0 1 0 -13.2 0zM405.4 259.1a6.6 6.6 0 1 0 13.2 0a6.6 6.6 0 1 0 -13.2 0zM410.9 258.4a6.6 6.6 0 1 0 13.2 0a6.6 6.6 0 1 0 -13.2 0zM416.4 257.6a6.6 6.6 0 1 0 13.2 0a6.6 6.6 0 1 0 -13.2 0zM421.9 256.9a6.6 6.6 0 1 0 13.2 0a6.6 6.6 0 1 0 -13.2 0zM427.4 256.2a6.6 6.6 0 1 0 13.2 0a6.6 6.6 0 1 0 -13.2 0zM432.9 255.5a6.6 6.6 0 1 0 13.2 0a6.6 6.6 0 1 0 -13.2 0zM438.4 254.8a6.6 6.6 0 1 0 13.2 0a6.6 6.6 0 1 0 -13.2 0zM443.9 254.2a6.6 6.6 0 1 0 13.2 0a6.6 6.6 0 1 0 -13.2 0zM449.4 253.6a6.6 6.6 0 1 0 13.2 0a6.6 6.6 0 1 0 -13.2 0zM454.9 253a6.6 6.6 0 1 0 13.2 0a6.6 6.6 0 1 0 -13.2 0zM460.4 252.3a6.6 6.6 0 1 0 13.2 0a6.6 6.6 0 1 0 -13.2 0zM465.9 251.7a6.6 6.6 0 1 0 13.2 0a6.6 6.6 0 1 0 -13.2 0zM471.4 251.1a6.6 6.6 0 1 0 13.2 0a6.6 6.6 0 1 0 -13.2 0zM476.8 250.5a6.6 6.6 0 1 0 13.2 0a6.6 6.6 0 1 0 -13.2 0zM482.3 249.9a6.6 6.6 0 1 0 13.2 0a6.6 6.6 0 1 0 -13.2 0zM487.8 249.2a6.6 6.6 0 1 0 13.2 0a6.6 6.6 0 1 0 -13.2 0zM493.3 248.5a6.6 6.6 0 1 0 13.2 0a6.6 6.6 0 1 0 -13.2 0zM498.8 247.9a6.6 6.6 0 1 0 13.2 0a6.6 6.6 0 1 0 -13.2 0zM504.3 247.3a6.6 6.6 0 1 0 13.2 0a6.6 6.6 0 1 0 -13.2 0zM509.8 246.7a6.6 6.6 0 1 0 13.2 0a6.6 6.6 0 1 0 -13.2 0zM515.3 246a6.6 6.6 0 1 0 13.2 0a6.6 6.6 0 1 0 -13.2 0zM520.8 245.2a6.6 6.6 0 1 0 13.2 0a6.6 6.6 0 1 0 -13.2 0zM526.3 244.3a6.6 6.6 0 1 0 13.2 0a6.6 6.6 0 1 0 -13.2 0zM531.8 243.5a6.6 6.6 0 1 0 13.2 0a6.6 6.6 0 1 0 -13.2 0zM537.3 242.6a6.6 6.6 0 1 0 13.2 0a6.6 6.6 0 1 0 -13.2 0zM542.8 241.8a6.6 6.6 0 1 0 13.2 0a6.6 6.6 0 1 0 -13.2 0zM548.3 240.9a6.6 6.6 0 1 0 13.2 0a6.6 6.6 0 1 0 -13.2 0zM553.8 240a6.6 6.6 0 1 0 13.2 0a6.6 6.6 0 1 0 -13.2 0zM559.3 239.2a6.6 6.6 0 1 0 13.2 0a6.6 6.6 0 1 0 -13.2 0zM564.7 238.3a6.6 6.6 0 1 0 13.2 0a6.6 6.6 0 1 0 -13.2 0zM570.2 237.5a6.6 6.6 0 1 0 13.2 0a6.6 6.6 0 1 0 -13.2 0zM575.7 236.6a6.6 6.6 0 1 0 13.2 0a6.6 6.6 0 1 0 -13.2 0zM581.2 235.7a6.6 6.6 0 1 0 13.2 0a6.6 6.6 0 1 0 -13.2 0zM586.7 234.9a6.6 6.6 0 1 0 13.2 0a6.6 6.6 0 1 0 -13.2 0zM592.2 234.1a6.6 6.6 0 1 0 13.2 0a6.6 6.6 0 1 0 -13.2 0zM597.7 233.3a6.6 6.6 0 1 0 13.2 0a6.6 6.6 0 1 0 -13.2 0zM603.2 232.4a6.6 6.6 0 1 0 13.2 0a6.6 6.6 0 1 0 -13.2 0zM608.7 231.6a6.6 6.6 0 1 0 13.2 0a6.6 6.6 0 1 0 -13.2 0zM614.2 230.8a6.6 6.6 0 1 0 13.2 0a6.6 6.6 0 1 0 -13.2 0zM619.7 230a6.6 6.6 0 1 0 13.2 0a6.6 6.6 0 1 0 -13.2 0zM625.2 229.1a6.6 6.6 0 1 0 13.2 0a6.6 6.6 0 1 0 -13.2 0zM630.7 228.3a6.6 6.6 0 1 0 13.2 0a6.6 6.6 0 1 0 -13.2 0zM636.2 227.5a6.6 6.6 0 1 0 13.2 0a6.6 6.6 0 1 0 -13.2 0zM641.7 226.7a6.6 6.6 0 1 0 13.2 0a6.6 6.6 0 1 0 -13.2 0zM647.2 225.8a6.6 6.6 0 1 0 13.2 0a6.6 6.6 0 1 0 -13.2 0zM652.7 225a6.6 6.6 0 1 0 13.2 0a6.6 6.6 0 1 0 -13.2 0zM658.1 224.2a6.6 6.6 0 1 0 13.2 0a6.6 6.6 0 1 0 -13.2 0zM663.6 223.4a6.6 6.6 0 1 0 13.2 0a6.6 6.6 0 1 0 -13.2 0zM669.1 222.6a6.6 6.6 0 1 0 13.2 0a6.6 6.6 0 1 0 -13.2 0zM674.6 221.7a6.6 6.6 0 1 0 13.2 0a6.6 6.6 0 1 0 -13.2 0zM680.1 220.9a6.6 6.6 0 1 0 13.2 0a6.6 6.6 0 1 0 -13.2 0zM685.6 220.1a6.6 6.6 0 1 0 13.2 0a6.6 6.6 0 1 0 -13.2 0zM691.1 219.3a6.6 6.6 0 1 0 13.2 0a6.6 6.6 0 1 0 -13.2 0zM696.6 218.5a6.6 6.6 0 1 0 13.2 0a6.6 6.6 0 1 0 -13.2 0zM702.1 217.7a6.6 6.6 0 1 0 13.2 0a6.6 6.6 0 1 0 -13.2 0zM707.6 216.9a6.6 6.6 0 1 0 13.2 0a6.6 6.6 0 1 0 -13.2 0zM713.1 216.1a6.6 6.6 0 1 0 13.2 0a6.6 6.6 0 1 0 -13.2 0zM718.6 215.3a6.6 6.6 0 1 0 13.2 0a6.6 6.6 0 1 0 -13.2 0zM724.1 214.5a6.6 6.6 0 1 0 13.2 0a6.6 6.6 0 1 0 -13.2 0zM729.6 213.8a6.6 6.6 0 1 0 13.2 0a6.6 6.6 0 1 0 -13.2 0zM735.1 213a6.6 6.6 0 1 0 13.2 0a6.6 6.6 0 1 0 -13.2 0zM740.6 212.2a6.6 6.6 0 1 0 13.2 0a6.6 6.6 0 1 0 -13.2 0zM746.1 211.4a6.6 6.6 0 1 0 13.2 0a6.6 6.6 0 1 0 -13.2 0zM751.5 210.6a6.6 6.6 0 1 0 13.2 0a6.6 6.6 0 1 0 -13.2 0zM757 209.9a6.6 6.6 0 1 0 13.2 0a6.6 6.6 0 1 0 -13.2 0zM762.5 209.1a6.6 6.6 0 1 0 13.2 0a6.6 6.6 0 1 0 -13.2 0zM768 208.3a6.6 6.6 0 1 0 13.2 0a6.6 6.6 0 1 0 -13.2 0zM773.5 207.5a6.6 6.6 0 1 0 13.2 0a6.6 6.6 0 1 0 -13.2 0zM779 206.4a6.6 6.6 0 1 0 13.2 0a6.6 6.6 0 1 0 -13.2 0zM784.5 205.2a6.6 6.6 0 1 0 13.2 0a6.6 6.6 0 1 0 -13.2 0zM790 204.1a6.6 6.6 0 1 0 13.2 0a6.6 6.6 0 1 0 -13.2 0zM795.5 203.1a6.6 6.6 0 1 0 13.2 0a6.6 6.6 0 1 0 -13.2 0zM801 202.2a6.6 6.6 0 1 0 13.2 0a6.6 6.6 0 1 0 -13.2 0zM806.5 201.4a6.6 6.6 0 1 0 13.2 0a6.6 6.6 0 1 0 -13.2 0zM812 200.6a6.6 6.6 0 1 0 13.2 0a6.6 6.6 0 1 0 -13.2 0zM817.5 199.8a6.6 6.6 0 1 0 13.2 0a6.6 6.6 0 1 0 -13.2 0zM823 199a6.6 6.6 0 1 0 13.2 0a6.6 6.6 0 1 0 -13.2 0zM828.5 198.1a6.6 6.6 0 1 0 13.2 0a6.6 6.6 0 1 0 -13.2 0zM834 197.3a6.6 6.6 0 1 0 13.2 0a6.6 6.6 0 1 0 -13.2 0zM839.4 196.5a6.6 6.6 0 1 0 13.2 0a6.6 6.6 0 1 0 -13.2 0zM844.9 195.7a6.6 6.6 0 1 0 13.2 0a6.6 6.6 0 1 0 -13.2 0zM850.4 194.9a6.6 6.6 0 1 0 13.2 0a6.6 6.6 0 1 0 -13.2 0zM855.9 194a6.6 6.6 0 1 0 13.2 0a6.6 6.6 0 1 0 -13.2 0zM861.4 193.2a6.6 6.6 0 1 0 13.2 0a6.6 6.6 0 1 0 -13.2 0zM866.9 191.4a6.6 6.6 0 1 0 13.2 0a6.6 6.6 0 1 0 -13.2 0zM872.4 187a6.6 6.6 0 1 0 13.2 0a6.6 6.6 0 1 0 -13.2 0zM877.9 186.6a6.6 6.6 0 1 0 13.2 0a6.6 6.6 0 1 0 -13.2 0zM883.4 186.2a6.6 6.6 0 1 0 13.2 0a6.6 6.6 0 1 0 -13.2 0zM888.9 185.8a6.6 6.6 0 1 0 13.2 0a6.6 6.6 0 1 0 -13.2 0zM894.4 185.4a6.6 6.6 0 1 0 13.2 0a6.6 6.6 0 1 0 -13.2 0zM899.9 185a6.6 6.6 0 1 0 13.2 0a6.6 6.6 0 1 0 -13.2 0zM905.4 184.6a6.6 6.6 0 1 0 13.2 0a6.6 6.6 0 1 0 -13.2 0zM910.9 184.2a6.6 6.6 0 1 0 13.2 0a6.6 6.6 0 1 0 -13.2 0zM916.4 183.8a6.6 6.6 0 1 0 13.2 0a6.6 6.6 0 1 0 -13.2 0zM921.9 183.3a6.6 6.6 0 1 0 13.2 0a6.6 6.6 0 1 0 -13.2 0zM927.4 182.9a6.6 6.6 0 1 0 13.2 0a6.6 6.6 0 1 0 -13.2 0zM932.8 182.5a6.6 6.6 0 1 0 13.2 0a6.6 6.6 0 1 0 -13.2 0zM938.3 182.1a6.6 6.6 0 1 0 13.2 0a6.6 6.6 0 1 0 -13.2 0zM943.8 181.6a6.6 6.6 0 1 0 13.2 0a6.6 6.6 0 1 0 -13.2 0zM949.3 181.2a6.6 6.6 0 1 0 13.2 0a6.6 6.6 0 1 0 -13.2 0z" fill="#0000ff"/>
<path d="M1657.6 572.7V574.7M1663.1 572.7V574.7M1668.6 572.6V574.7M1674.1 572.6V574.6M1679.6 572.6V574.6M1685 572.5V574.6M1690.5 572.5V574.6M1696 572.5V574.6M1701.5 572.4V574.5M1707 572.2V574.3M1712.5 572V574.2M1718 571.8V574M1723.5 571.6V573.8M1729 571.4V573.6M1734.5 570.7V574M1740 569.9V574.3M1745.5 568.3V573.8M1751 565.9V572.4M1756.5 563.4V571.1M1762 560.9V569.7M1767.5 557.8V567.6M1773 554.3V565.3M1778.4 550.6V563.2M1783.9 547V561.1M1789.4 541.1V556.8M1794.9 534.9V552.2M1800.4 528.8V547.6M1805.9 522.7V543.1M1811.4 514.1V536.1M1816.9 506.3V528.3M1822.4 498.5V520.5M1827.9 490.3V512.3M1833.4 480.6V502.6M1838.9 470.9V492.9M1844.4 461.2V483.2M1849.9 450.5V472.5M1855.4 438V460M1860.9 420.3V442.3M1866.3 396.3V418.3M1871.8 387.3V405.4M1877.3 382V396.1M1882.8 382.1V392.3M1888.3 380.3V390.5M1893.8 378.4V388.7M1899.3 376.8V387M1904.8 375.2V385.4M1910.3 373.6V383.7M1915.8 372V382.1M1921.3 370.5V380.6M1926.8 369.2V379.3M1932.3 367.9V377.9M1937.8 366.6V376.6M1943.3 365.3V375.3M1948.8 364V373.9M1954.3 362.6V372.6M1959.7 361.3V371.3M1965.2 360V369.9M1970.7 358.7V368.6M1976.2 357.4V367.3M1981.7 356.1V365.9M1987.2 354.8V364.6M1992.7 353.6V363.4M1998.2 352.6V362.3M2003.7 351.5V361.3M2009.2 350.5V360.2M2014.7 349.4V359.2M2020.2 348.4V358.1M2025.7 347.3V357M2031.2 346.3V356M2036.7 345.3V354.9M2042.2 344.2V353.9M2047.7 343.2V352.8M2053.1 342.1V351.7M2058.6 341.1V350.7M2064.1 340.1V349.6M2069.6 339V348.5M2075.1 338V347.5M2080.6 336.9V346.4M2086.1 335.9V345.4M2091.6 334.9V344.3M2097.1 333.8V343.2M2102.6 332.8V342.2M2108.1 331.7V341.1M2113.6 330.7V340M2119.1 329.7V339M2124.6 328.6V337.9M2130.1 327.6V336.9M2135.6 326.5V335.8M2141.1 325.5V334.7M2146.5 324.4V333.6M2152 323.4V332.5M2157.5 322.3V331.4M2163 321.2V330.4M2168.5 320.1V329.3M2174 319.1V328.2M2179.5 318V327.1M2185 316.9V326M2190.5 315.8V324.9M2196 314.8V323.8M2201.5 313.7V322.7M2207 312.6V321.6M2212.5 311.5V320.4M2218 310.2V319.2M2223.5 309V317.9M2229 307.8V316.6M2234.4 306.5V315.4M2239.9 305.3V314.1M2245.4 304V312.9M2250.9 302.8V311.6" fill="none" stroke="#a608e6" stroke-width="2.2"/>
<path d="M1652.6 572.7h10M1652.6 574.7h10M1658.1 572.7h10M1658.1 574.7h10M1663.6 572.6h10M1663.6 574.7h10M1669.1 572.6h10M1669.1 574.6h10M1674.6 572.6h10M1674.6 574.6h10M1680 572.5h10M1680 574.6h10M1685.5 572.5h10M1685.5 574.6h10M1691 572.5h10M1691 574.6h10M1696.5 572.4h10M1696.5 574.5h10M1702 572.2h10M1702 574.3h10M1707.5 572h10M1707.5 574.2h10M1713 571.8h10M1713 574h10M1718.5 571.6h10M1718.5 573.8h10M1724 571.4h10M1724 573.6h10M1729.5 570.7h10M1729.5 574h10M1735 569.9h10M1735 574.3h10M1740.5 568.3h10M1740.5 573.8h10M1746 565.9h10M1746 572.4h10M1751.5 563.4h10M1751.5 571.1h10M1757 560.9h10M1757 569.7h10M1762.5 557.8h10M1762.5 567.6h10M1768 554.3h10M1768 565.3h10M1773.4 550.6h10M1773.4 563.2h10M1778.9 547h10M1778.9 561.1h10M1784.4 541.1h10M1784.4 556.8h10M1789.9 534.9h10M1789.9 552.2h10M1795.4 528.8h10M1795.4 547.6h10M1800.9 522.7h10M1800.9 543.1h10M1806.4 514.1h10M1806.4 536.1h10M1811.9 506.3h10M1811.9 528.3h10M1817.4 498.5h10M1817.4 520.5h10M1822.9 490.3h10M1822.9 512.3h10M1828.4 480.6h10M1828.4 502.6h10M1833.9 470.9h10M1833.9 492.9h10M1839.4 461.2h10M1839.4 483.2h10M1844.9 450.5h10M1844.9 472.5h10M1850.4 438h10M1850.4 460h10M1855.9 420.3h10M1855.9 442.3h10M1861.3 396.3h10M1861.3 418.3h10M1866.8 387.3h10M1866.8 405.4h10M1872.3 382h10M1872.3 396.1h10M1877.8 382.1h10M1877.8 392.3h10M1883.3 380.3h10M1883.3 390.5h10M1888.8 378.4h10M1888.8 388.7h10M1894.3 376.8h10M1894.3 387h10M1899.8 375.2h10M1899.8 385.4h10M1905.3 373.6h10M1905.3 383.7h10M1910.8 372h10M1910.8 382.1h10M1916.3 370.5h10M1916.3 380.6h10M1921.8 369.2h10M1921.8 379.3h10M1927.3 367.9h10M1927.3 377.9h10M1932.8 366.6h10M1932.8 376.6h10M1938.3 365.3h10M1938.3 375.3h10M1943.8 364h10M1943.8 373.9h10M1949.3 362.6h10M1949.3 372.6h10M1954.7 361.3h10M1954.7 371.3h10M1960.2 360h10M1960.2 369.9h10M1965.7 358.7h10M1965.7 368.6h10M1971.2 357.4h10M1971.2 367.3h10M1976.7 356.1h10M1976.7 365.9h10M1982.2 354.8h10M1982.2 364.6h10M1987.7 353.6h10M1987.7 363.4h10M1993.2 352.6h10M1993.2 362.3h10M1998.7 351.5h10M1998.7 361.3h10M2004.2 350.5h10M2004.2 360.2h10M2009.7 349.4h10M2009.7 359.2h10M2015.2 348.4h10M2015.2 358.1h10M2020.7 347.3h10M2020.7 357h10M2026.2 346.3h10M2026.2 356h10M2031.7 345.3h10M2031.7 354.9h10M2037.2 344.2h10M2037.2 353.9h10M2042.7 343.2h10M2042.7 352.8h10M2048.1 342.1h10M2048.1 351.7h10M2053.6 341.1h10M2053.6 350.7h10M2059.1 340.1h10M2059.1 349.6h10M2064.6 339h10M2064.6 348.5h10M2070.1 338h10M2070.1 347.5h10M2075.6 336.9h10M2075.6 346.4h10M2081.1 335.9h10M2081.1 345.4h10M2086.6 334.9h10M2086.6 344.3h10M2092.1 333.8h10M2092.1 343.2h10M2097.6 332.8h10M2097.6 342.2h10M2103.1 331.7h10M2103.1 341.1h10M2108.6 330.7h10M2108.6 340h10M2114.1 329.7h10M2114.1 339h10M2119.6 328.6h10M2119.6 337.9h10M2125.1 327.6h10M2125.1 336.9h10M2130.6 326.5h10M2130.6 335.8h10M2136.1 325.5h10M2136.1 334.7h10M2141.5 324.4h10M2141.5 333.6h10M2147 323.4h10M2147 332.5h10M2152.5 322.3h10M2152.5 331.4h10M2158 321.2h10M2158 330.4h10M2163.5 320.1h10M2163.5 329.3h10M2169 319.1h10M2169 328.2h10M2174.5 318h10M2174.5 327.1h10M2180 316.9h10M2180 326h10M2185.5 315.8h10M2185.5 324.9h10M2191 314.8h10M2191 323.8h10M2196.5 313.7h10M2196.5 322.7h10M2202 312.6h10M2202 321.6h10M2207.5 311.5h10M2207.5 320.4h10M2213 310.2h10M2213 319.2h10M2218.5 309h10M2218.5 317.9h10M2224 307.8h10M2224 316.6h10M2229.4 306.5h10M2229.4 315.4h10M2234.9 305.3h10M2234.9 314.1h10M2240.4 304h10M2240.4 312.9h10M2245.9 302.8h10M2245.9 311.6h10" fill="none" stroke="#a608e6" stroke-width="2"/>
<polyline points="1454.3,574.6 1459.8,574.6 1465.3,574.6 1470.8,574.5 1476.3,574.5 1481.8,574.5 1487.3,574.5 1492.8,574.4 1498.3,574.4 1503.7,574.4 1509.2,574.4 1514.7,574.3 1520.2,574.3 1525.7,574.3 1531.2,574.3 1536.7,574.2 1542.2,574.2 1547.7,574.2 1553.2,574.2 1558.7,574.1 1564.2,574.1 1569.7,574.1 1575.2,574.1 1580.7,574 1586.2,574 1591.6,574 1597.1,574 1602.6,573.9 1608.1,573.9 1613.6,573.9 1619.1,573.9 1624.6,573.8 1630.1,573.8 1635.6,573.8 1641.1,573.8 1646.6,573.7 1652.1,573.7 1657.6,573.7 1663.1,573.7 1668.6,573.6 1674.1,573.6 1679.6,573.6 1685,573.6 1690.5,573.5 1696,573.5 1701.5,573.5 1707,573.3 1712.5,573.1 1718,572.9 1723.5,572.7 1729,572.5 1734.5,572.3 1740,572.1 1745.5,571.1 1751,569.2 1756.5,567.2 1762,565.3 1767.5,562.7 1773,559.8 1778.4,556.9 1783.9,554 1789.4,548.9 1794.9,543.6 1800.4,538.2 1805.9,532.9 1811.4,525.1 1816.9,517.3 1822.4,509.5 1827.9,501.3 1833.4,491.6 1838.9,481.9 1844.4,472.2 1849.9,461.5 1855.4,449 1860.9,431.3 1866.3,407.3 1871.8,396.4 1877.3,389 1882.8,387.2 1888.3,385.4 1893.8,383.6 1899.3,381.9 1904.8,380.3 1910.3,378.7 1915.8,377 1921.3,375.6 1926.8,374.2 1932.3,372.9 1937.8,371.6 1943.3,370.3 1948.8,369 1954.3,367.6 1959.7,366.3 1965.2,365 1970.7,363.7 1976.2,362.3 1981.7,361 1987.2,359.7 1992.7,358.5 1998.2,357.5 2003.7,356.4 2009.2,355.3 2014.7,354.3 2020.2,353.2 2025.7,352.2 2031.2,351.1 2036.7,350.1 2042.2,349 2047.7,348 2053.1,346.9 2058.6,345.9 2064.1,344.8 2069.6,343.8 2075.1,342.7 2080.6,341.7 2086.1,340.6 2091.6,339.6 2097.1,338.5 2102.6,337.5 2108.1,336.4 2113.6,335.4 2119.1,334.3 2124.6,333.3 2130.1,332.2 2135.6,331.2 2141.1,330.1 2146.5,329 2152,327.9 2157.5,326.9 2163,325.8 2168.5,324.7 2174,323.6 2179.5,322.5 2185,321.4 2190.5,320.4 2196,319.3 2201.5,318.2 2207,317.1 2212.5,315.9 2218,314.7 2223.5,313.5 2229,312.2 2234.4,311 2239.9,309.7 2245.4,308.5 2250.9,307.2" fill="none" stroke="#a608e6" stroke-width="5.4" stroke-linejoin="round"/>
<path d="M1454.3 583.6l9.2 -18h-18.4zM1459.8 583.6l9.2 -18h-18.4zM1465.3 583.6l9.2 -18h-18.4zM1470.8 583.5l9.2 -18h-18.4zM1476.3 583.5l9.2 -18h-18.4zM1481.8 583.5l9.2 -18h-18.4zM1487.3 583.5l9.2 -18h-18.4zM1492.8 583.4l9.2 -18h-18.4zM1498.3 583.4l9.2 -18h-18.4zM1503.7 583.4l9.2 -18h-18.4zM1509.2 583.4l9.2 -18h-18.4zM1514.7 583.3l9.2 -18h-18.4zM1520.2 583.3l9.2 -18h-18.4zM1525.7 583.3l9.2 -18h-18.4zM1531.2 583.3l9.2 -18h-18.4zM1536.7 583.2l9.2 -18h-18.4zM1542.2 583.2l9.2 -18h-18.4zM1547.7 583.2l9.2 -18h-18.4zM1553.2 583.2l9.2 -18h-18.4zM1558.7 583.1l9.2 -18h-18.4zM1564.2 583.1l9.2 -18h-18.4zM1569.7 583.1l9.2 -18h-18.4zM1575.2 583.1l9.2 -18h-18.4zM1580.7 583l9.2 -18h-18.4zM1586.2 583l9.2 -18h-18.4zM1591.6 583l9.2 -18h-18.4zM1597.1 583l9.2 -18h-18.4zM1602.6 582.9l9.2 -18h-18.4zM1608.1 582.9l9.2 -18h-18.4zM1613.6 582.9l9.2 -18h-18.4zM1619.1 582.9l9.2 -18h-18.4zM1624.6 582.8l9.2 -18h-18.4zM1630.1 582.8l9.2 -18h-18.4zM1635.6 582.8l9.2 -18h-18.4zM1641.1 582.8l9.2 -18h-18.4zM1646.6 582.7l9.2 -18h-18.4zM1652.1 582.7l9.2 -18h-18.4zM1657.6 582.7l9.2 -18h-18.4zM1663.1 582.7l9.2 -18h-18.4zM1668.6 582.6l9.2 -18h-18.4zM1674.1 582.6l9.2 -18h-18.4zM1679.6 582.6l9.2 -18h-18.4zM1685 582.6l9.2 -18h-18.4zM1690.5 582.5l9.2 -18h-18.4zM1696 582.5l9.2 -18h-18.4zM1701.5 582.5l9.2 -18h-18.4zM1707 582.3l9.2 -18h-18.4zM1712.5 582.1l9.2 -18h-18.4zM1718 581.9l9.2 -18h-18.4zM1723.5 581.7l9.2 -18h-18.4zM1729 581.5l9.2 -18h-18.4zM1734.5 581.3l9.2 -18h-18.4zM1740 581.1l9.2 -18h-18.4zM1745.5 580.1l9.2 -18h-18.4zM1751 578.2l9.2 -18h-18.4zM1756.5 576.2l9.2 -18h-18.4zM1762 574.3l9.2 -18h-18.4zM1767.5 571.7l9.2 -18h-18.4zM1773 568.8l9.2 -18h-18.4zM1778.4 565.9l9.2 -18h-18.4zM1783.9 563l9.2 -18h-18.4zM1789.4 557.9l9.2 -18h-18.4zM1794.9 552.6l9.2 -18h-18.4zM1800.4 547.2l9.2 -18h-18.4zM1805.9 541.9l9.2 -18h-18.4zM1811.4 534.1l9.2 -18h-18.4zM1816.9 526.3l9.2 -18h-18.4zM1822.4 518.5l9.2 -18h-18.4zM1827.9 510.3l9.2 -18h-18.4zM1833.4 500.6l9.2 -18h-18.4zM1838.9 490.9l9.2 -18h-18.4zM1844.4 481.2l9.2 -18h-18.4zM1849.9 470.5l9.2 -18h-18.4zM1855.4 458l9.2 -18h-18.4zM1860.9 440.3l9.2 -18h-18.4zM1866.3 416.3l9.2 -18h-18.4zM1871.8 405.4l9.2 -18h-18.4zM1877.3 398l9.2 -18h-18.4zM1882.8 396.2l9.2 -18h-18.4zM1888.3 394.4l9.2 -18h-18.4zM1893.8 392.6l9.2 -18h-18.4zM1899.3 390.9l9.2 -18h-18.4zM1904.8 389.3l9.2 -18h-18.4zM1910.3 387.7l9.2 -18h-18.4zM1915.8 386l9.2 -18h-18.4zM1921.3 384.6l9.2 -18h-18.4zM1926.8 383.2l9.2 -18h-18.4zM1932.3 381.9l9.2 -18h-18.4zM1937.8 380.6l9.2 -18h-18.4zM1943.3 379.3l9.2 -18h-18.4zM1948.8 378l9.2 -18h-18.4zM1954.3 376.6l9.2 -18h-18.4zM1959.7 375.3l9.2 -18h-18.4zM1965.2 374l9.2 -18h-18.4zM1970.7 372.7l9.2 -18h-18.4zM1976.2 371.3l9.2 -18h-18.4zM1981.7 370l9.2 -18h-18.4zM1987.2 368.7l9.2 -18h-18.4zM1992.7 367.5l9.2 -18h-18.4zM1998.2 366.5l9.2 -18h-18.4zM2003.7 365.4l9.2 -18h-18.4zM2009.2 364.3l9.2 -18h-18.4zM2014.7 363.3l9.2 -18h-18.4zM2020.2 362.2l9.2 -18h-18.4zM2025.7 361.2l9.2 -18h-18.4zM2031.2 360.1l9.2 -18h-18.4zM2036.7 359.1l9.2 -18h-18.4zM2042.2 358l9.2 -18h-18.4zM2047.7 357l9.2 -18h-18.4zM2053.1 355.9l9.2 -18h-18.4zM2058.6 354.9l9.2 -18h-18.4zM2064.1 353.8l9.2 -18h-18.4zM2069.6 352.8l9.2 -18h-18.4zM2075.1 351.7l9.2 -18h-18.4zM2080.6 350.7l9.2 -18h-18.4zM2086.1 349.6l9.2 -18h-18.4zM2091.6 348.6l9.2 -18h-18.4zM2097.1 347.5l9.2 -18h-18.4zM2102.6 346.5l9.2 -18h-18.4zM2108.1 345.4l9.2 -18h-18.4zM2113.6 344.4l9.2 -18h-18.4zM2119.1 343.3l9.2 -18h-18.4zM2124.6 342.3l9.2 -18h-18.4zM2130.1 341.2l9.2 -18h-18.4zM2135.6 340.2l9.2 -18h-18.4zM2141.1 339.1l9.2 -18h-18.4zM2146.5 338l9.2 -18h-18.4zM2152 336.9l9.2 -18h-18.4zM2157.5 335.9l9.2 -18h-18.4zM2163 334.8l9.2 -18h-18.4zM2168.5 333.7l9.2 -18h-18.4zM2174 332.6l9.2 -18h-18.4zM2179.5 331.5l9.2 -18h-18.4zM2185 330.4l9.2 -18h-18.4zM2190.5 329.4l9.2 -18h-18.4zM2196 328.3l9.2 -18h-18.4zM2201.5 327.2l9.2 -18h-18.4zM2207 326.1l9.2 -18h-18.4zM2212.5 324.9l9.2 -18h-18.4zM2218 323.7l9.2 -18h-18.4zM2223.5 322.5l9.2 -18h-18.4zM2229 321.2l9.2 -18h-18.4zM2234.4 320l9.2 -18h-18.4zM2239.9 318.7l9.2 -18h-18.4zM2245.4 317.5l9.2 -18h-18.4zM2250.9 316.2l9.2 -18h-18.4z" fill="#a608e6"/>
<path d="M1591.6 568.8V570.8M1597.1 567.4V569.4M1602.6 565.3V567.4M1608.1 563.3V565.4M1613.6 561.3V563.4M1619.1 559.3V561.4M1624.6 553.7V555.8M1630.1 547.8V549.9M1635.6 538.9V541.1M1641.1 529V531.2M1646.6 514.1V518.8M1652.1 496.9V504.2M1657.6 474.5V492.1M1663.1 453.8V475.7M1668.6 429.3V451.3M1674.1 407V429M1679.6 398.9V414.3M1685 399.2V408M1690.5 397.4V406.2M1696 396.9V405.7M1701.5 396.5V405.2M1707 396V404.8M1712.5 395.5V404.3M1718 395V403.8M1723.5 394.6V403.4M1729 394.1V402.9M1734.5 393.6V402.4M1740 393.2V401.9M1745.5 392.7V401.5M1751 392.2V401M1756.5 391.7V400.5M1762 391.3V400M1767.5 390.8V399.6M1773 390.3V399.1M1778.4 389.8V398.6M1783.9 389.4V398.2M1789.4 388.3V397.1M1794.9 375.1V383.9M1800.4 374.8V383.6M1805.9 374.5V383.3M1811.4 374.2V383M1816.9 373.9V382.7M1822.4 373.6V382.4M1827.9 373.3V382.1M1833.4 373V381.8M1838.9 372.7V381.5M1844.4 372.4V381.2M1849.9 372.1V380.9M1855.4 371.8V380.6M1860.9 371.5V380.3M1866.3 371.2V380M1871.8 370.9V379.6M1877.3 370.6V379.3M1882.8 370.3V379M1888.3 369.9V378.7M1893.8 369.6V378.4M1899.3 369.3V378.1M1904.8 369.1V377.8M1910.3 368.8V377.5M1915.8 368.5V377.3M1921.3 368.2V377M1926.8 367.9V376.7M1932.3 367.6V376.4M1937.8 367.3V376.1M1943.3 367V375.8M1948.8 366.7V375.5M1954.3 366.4V375.2M1959.7 366.1V374.9M1965.2 365.8V374.6M1970.7 365.5V374.3M1976.2 365.3V374M1981.7 365V373.7M1987.2 364.7V373.4M1992.7 364.3V373.1M1998.2 363.8V372.6M2003.7 363.4V372.1M2009.2 362.9V371.7M2014.7 362.4V371.2M2020.2 362V370.7M2025.7 361.5V370.3M2031.2 361V369.8M2036.7 360.6V369.3M2042.2 360.1V368.9M2047.7 359.6V368.4M2053.1 359.2V367.9M2058.6 358.7V367.5M2064.1 358.2V367M2069.6 357.8V366.5M2075.1 357.3V366.1M2080.6 356.8V365.6M2086.1 356.4V365.2M2091.6 355.9V364.7M2097.1 355.4V364.2M2102.6 355V363.8M2108.1 354.5V363.3M2113.6 354V362.8M2119.1 353.6V362.4M2124.6 353.1V361.9M2130.1 352.6V361.4M2135.6 352.2V361M2141.1 351.7V360.5M2146.5 351V359.8M2152 350.2V359M2157.5 349.5V358.3M2163 348.8V357.6M2168.5 348V356.8M2174 347V356.5M2179.5 345.9V356.1M2185 344.8V355.7M2190.5 343.7V355.4M2196 342.6V355M2201.5 340.7V353.9M2207 338.9V352.8M2212.5 337.1V351.7M2218 334.5V351.3M2223.5 331.8V350.8M2229 328.9V350.1M2234.4 326V349.5M2239.9 323.2V348.8M2245.4 320.2V347.1M2250.9 317.3V345.4" fill="none" stroke="#00c000" stroke-width="2.4"/>
<path d="M1579.6 568.8h24M1579.6 570.8h24M1585.1 567.4h24M1585.1 569.4h24M1590.6 565.3h24M1590.6 567.4h24M1596.1 563.3h24M1596.1 565.4h24M1601.6 561.3h24M1601.6 563.4h24M1607.1 559.3h24M1607.1 561.4h24M1612.6 553.7h24M1612.6 555.8h24M1618.1 547.8h24M1618.1 549.9h24M1623.6 538.9h24M1623.6 541.1h24M1629.1 529h24M1629.1 531.2h24M1634.6 514.1h24M1634.6 518.8h24M1640.1 496.9h24M1640.1 504.2h24M1645.6 474.5h24M1645.6 492.1h24M1651.1 453.8h24M1651.1 475.7h24M1656.6 429.3h24M1656.6 451.3h24M1662.1 407h24M1662.1 429h24M1667.6 398.9h24M1667.6 414.3h24M1673 399.2h24M1673 408h24M1678.5 397.4h24M1678.5 406.2h24M1684 396.9h24M1684 405.7h24M1689.5 396.5h24M1689.5 405.2h24M1695 396h24M1695 404.8h24M1700.5 395.5h24M1700.5 404.3h24M1706 395h24M1706 403.8h24M1711.5 394.6h24M1711.5 403.4h24M1717 394.1h24M1717 402.9h24M1722.5 393.6h24M1722.5 402.4h24M1728 393.2h24M1728 401.9h24M1733.5 392.7h24M1733.5 401.5h24M1739 392.2h24M1739 401h24M1744.5 391.7h24M1744.5 400.5h24M1750 391.3h24M1750 400h24M1755.5 390.8h24M1755.5 399.6h24M1761 390.3h24M1761 399.1h24M1766.4 389.8h24M1766.4 398.6h24M1771.9 389.4h24M1771.9 398.2h24M1777.4 388.3h24M1777.4 397.1h24M1782.9 375.1h24M1782.9 383.9h24M1788.4 374.8h24M1788.4 383.6h24M1793.9 374.5h24M1793.9 383.3h24M1799.4 374.2h24M1799.4 383h24M1804.9 373.9h24M1804.9 382.7h24M1810.4 373.6h24M1810.4 382.4h24M1815.9 373.3h24M1815.9 382.1h24M1821.4 373h24M1821.4 381.8h24M1826.9 372.7h24M1826.9 381.5h24M1832.4 372.4h24M1832.4 381.2h24M1837.9 372.1h24M1837.9 380.9h24M1843.4 371.8h24M1843.4 380.6h24M1848.9 371.5h24M1848.9 380.3h24M1854.3 371.2h24M1854.3 380h24M1859.8 370.9h24M1859.8 379.6h24M1865.3 370.6h24M1865.3 379.3h24M1870.8 370.3h24M1870.8 379h24M1876.3 369.9h24M1876.3 378.7h24M1881.8 369.6h24M1881.8 378.4h24M1887.3 369.3h24M1887.3 378.1h24M1892.8 369.1h24M1892.8 377.8h24M1898.3 368.8h24M1898.3 377.5h24M1903.8 368.5h24M1903.8 377.3h24M1909.3 368.2h24M1909.3 377h24M1914.8 367.9h24M1914.8 376.7h24M1920.3 367.6h24M1920.3 376.4h24M1925.8 367.3h24M1925.8 376.1h24M1931.3 367h24M1931.3 375.8h24M1936.8 366.7h24M1936.8 375.5h24M1942.3 366.4h24M1942.3 375.2h24M1947.7 366.1h24M1947.7 374.9h24M1953.2 365.8h24M1953.2 374.6h24M1958.7 365.5h24M1958.7 374.3h24M1964.2 365.3h24M1964.2 374h24M1969.7 365h24M1969.7 373.7h24M1975.2 364.7h24M1975.2 373.4h24M1980.7 364.3h24M1980.7 373.1h24M1986.2 363.8h24M1986.2 372.6h24M1991.7 363.4h24M1991.7 372.1h24M1997.2 362.9h24M1997.2 371.7h24M2002.7 362.4h24M2002.7 371.2h24M2008.2 362h24M2008.2 370.7h24M2013.7 361.5h24M2013.7 370.3h24M2019.2 361h24M2019.2 369.8h24M2024.7 360.6h24M2024.7 369.3h24M2030.2 360.1h24M2030.2 368.9h24M2035.7 359.6h24M2035.7 368.4h24M2041.1 359.2h24M2041.1 367.9h24M2046.6 358.7h24M2046.6 367.5h24M2052.1 358.2h24M2052.1 367h24M2057.6 357.8h24M2057.6 366.5h24M2063.1 357.3h24M2063.1 366.1h24M2068.6 356.8h24M2068.6 365.6h24M2074.1 356.4h24M2074.1 365.2h24M2079.6 355.9h24M2079.6 364.7h24M2085.1 355.4h24M2085.1 364.2h24M2090.6 355h24M2090.6 363.8h24M2096.1 354.5h24M2096.1 363.3h24M2101.6 354h24M2101.6 362.8h24M2107.1 353.6h24M2107.1 362.4h24M2112.6 353.1h24M2112.6 361.9h24M2118.1 352.6h24M2118.1 361.4h24M2123.6 352.2h24M2123.6 361h24M2129.1 351.7h24M2129.1 360.5h24M2134.5 351h24M2134.5 359.8h24M2140 350.2h24M2140 359h24M2145.5 349.5h24M2145.5 358.3h24M2151 348.8h24M2151 357.6h24M2156.5 348h24M2156.5 356.8h24M2162 347h24M2162 356.5h24M2167.5 345.9h24M2167.5 356.1h24M2173 344.8h24M2173 355.7h24M2178.5 343.7h24M2178.5 355.4h24M2184 342.6h24M2184 355h24M2189.5 340.7h24M2189.5 353.9h24M2195 338.9h24M2195 352.8h24M2200.5 337.1h24M2200.5 351.7h24M2206 334.5h24M2206 351.3h24M2211.5 331.8h24M2211.5 350.8h24M2217 328.9h24M2217 350.1h24M2222.4 326h24M2222.4 349.5h24M2227.9 323.2h24M2227.9 348.8h24M2233.4 320.2h24M2233.4 347.1h24M2238.9 317.3h24M2238.9 345.4h24" fill="none" stroke="#00c000" stroke-width="2.2"/>
<polyline points="1454.3,575 1459.8,574.9 1465.3,574.9 1470.8,574.9 1476.3,574.9 1481.8,574.9 1487.3,574.9 1492.8,574.8 1498.3,574.8 1503.7,574.8 1509.2,574.8 1514.7,574.8 1520.2,574.7 1525.7,574.7 1531.2,574.7 1536.7,574.7 1542.2,574.7 1547.7,574.7 1553.2,574.6 1558.7,574.6 1564.2,574.6 1569.7,574 1575.2,573.4 1580.7,572.8 1586.2,571.3 1591.6,569.8 1597.1,568.4 1602.6,566.4 1608.1,564.4 1613.6,562.3 1619.1,560.3 1624.6,554.7 1630.1,548.8 1635.6,540 1641.1,530.1 1646.6,516.4 1652.1,500.5 1657.6,483.3 1663.1,464.8 1668.6,440.3 1674.1,418 1679.6,406.6 1685,403.6 1690.5,401.8 1696,401.3 1701.5,400.9 1707,400.4 1712.5,399.9 1718,399.4 1723.5,399 1729,398.5 1734.5,398 1740,397.5 1745.5,397.1 1751,396.6 1756.5,396.1 1762,395.7 1767.5,395.2 1773,394.7 1778.4,394.2 1783.9,393.8 1789.4,392.7 1794.9,379.5 1800.4,379.2 1805.9,378.9 1811.4,378.6 1816.9,378.3 1822.4,378 1827.9,377.7 1833.4,377.4 1838.9,377.1 1844.4,376.8 1849.9,376.5 1855.4,376.2 1860.9,375.9 1866.3,375.6 1871.8,375.3 1877.3,374.9 1882.8,374.6 1888.3,374.3 1893.8,374 1899.3,373.7 1904.8,373.4 1910.3,373.2 1915.8,372.9 1921.3,372.6 1926.8,372.3 1932.3,372 1937.8,371.7 1943.3,371.4 1948.8,371.1 1954.3,370.8 1959.7,370.5 1965.2,370.2 1970.7,369.9 1976.2,369.6 1981.7,369.3 1987.2,369.1 1992.7,368.7 1998.2,368.2 2003.7,367.7 2009.2,367.3 2014.7,366.8 2020.2,366.3 2025.7,365.9 2031.2,365.4 2036.7,365 2042.2,364.5 2047.7,364 2053.1,363.6 2058.6,363.1 2064.1,362.6 2069.6,362.2 2075.1,361.7 2080.6,361.2 2086.1,360.8 2091.6,360.3 2097.1,359.8 2102.6,359.4 2108.1,358.9 2113.6,358.4 2119.1,358 2124.6,357.5 2130.1,357 2135.6,356.6 2141.1,356.1 2146.5,355.4 2152,354.6 2157.5,353.9 2163,353.2 2168.5,352.4 2174,351.7 2179.5,351 2185,350.2 2190.5,349.5 2196,348.8 2201.5,347.3 2207,345.9 2212.5,344.4 2218,342.9 2223.5,341.3 2229,339.5 2234.4,337.7 2239.9,336 2245.4,333.7 2250.9,331.3" fill="none" stroke="#00c000" stroke-width="5.4" stroke-linejoin="round"/>
<path d="M1454.3 566l9.2 18h-18.4zM1459.8 565.9l9.2 18h-18.4zM1465.3 565.9l9.2 18h-18.4zM1470.8 565.9l9.2 18h-18.4zM1476.3 565.9l9.2 18h-18.4zM1481.8 565.9l9.2 18h-18.4zM1487.3 565.9l9.2 18h-18.4zM1492.8 565.8l9.2 18h-18.4zM1498.3 565.8l9.2 18h-18.4zM1503.7 565.8l9.2 18h-18.4zM1509.2 565.8l9.2 18h-18.4zM1514.7 565.8l9.2 18h-18.4zM1520.2 565.7l9.2 18h-18.4zM1525.7 565.7l9.2 18h-18.4zM1531.2 565.7l9.2 18h-18.4zM1536.7 565.7l9.2 18h-18.4zM1542.2 565.7l9.2 18h-18.4zM1547.7 565.7l9.2 18h-18.4zM1553.2 565.6l9.2 18h-18.4zM1558.7 565.6l9.2 18h-18.4zM1564.2 565.6l9.2 18h-18.4zM1569.7 565l9.2 18h-18.4zM1575.2 564.4l9.2 18h-18.4zM1580.7 563.8l9.2 18h-18.4zM1586.2 562.3l9.2 18h-18.4zM1591.6 560.8l9.2 18h-18.4zM1597.1 559.4l9.2 18h-18.4zM1602.6 557.4l9.2 18h-18.4zM1608.1 555.4l9.2 18h-18.4zM1613.6 553.3l9.2 18h-18.4zM1619.1 551.3l9.2 18h-18.4zM1624.6 545.7l9.2 18h-18.4zM1630.1 539.8l9.2 18h-18.4zM1635.6 531l9.2 18h-18.4zM1641.1 521.1l9.2 18h-18.4zM1646.6 507.4l9.2 18h-18.4zM1652.1 491.5l9.2 18h-18.4zM1657.6 474.3l9.2 18h-18.4zM1663.1 455.8l9.2 18h-18.4zM1668.6 431.3l9.2 18h-18.4zM1674.1 409l9.2 18h-18.4zM1679.6 397.6l9.2 18h-18.4zM1685 394.6l9.2 18h-18.4zM1690.5 392.8l9.2 18h-18.4zM1696 392.3l9.2 18h-18.4zM1701.5 391.9l9.2 18h-18.4zM1707 391.4l9.2 18h-18.4zM1712.5 390.9l9.2 18h-18.4zM1718 390.4l9.2 18h-18.4zM1723.5 390l9.2 18h-18.4zM1729 389.5l9.2 18h-18.4zM1734.5 389l9.2 18h-18.4zM1740 388.5l9.2 18h-18.4zM1745.5 388.1l9.2 18h-18.4zM1751 387.6l9.2 18h-18.4zM1756.5 387.1l9.2 18h-18.4zM1762 386.7l9.2 18h-18.4zM1767.5 386.2l9.2 18h-18.4zM1773 385.7l9.2 18h-18.4zM1778.4 385.2l9.2 18h-18.4zM1783.9 384.8l9.2 18h-18.4zM1789.4 383.7l9.2 18h-18.4zM1794.9 370.5l9.2 18h-18.4zM1800.4 370.2l9.2 18h-18.4zM1805.9 369.9l9.2 18h-18.4zM1811.4 369.6l9.2 18h-18.4zM1816.9 369.3l9.2 18h-18.4zM1822.4 369l9.2 18h-18.4zM1827.9 368.7l9.2 18h-18.4zM1833.4 368.4l9.2 18h-18.4zM1838.9 368.1l9.2 18h-18.4zM1844.4 367.8l9.2 18h-18.4zM1849.9 367.5l9.2 18h-18.4zM1855.4 367.2l9.2 18h-18.4zM1860.9 366.9l9.2 18h-18.4zM1866.3 366.6l9.2 18h-18.4zM1871.8 366.3l9.2 18h-18.4zM1877.3 365.9l9.2 18h-18.4zM1882.8 365.6l9.2 18h-18.4zM1888.3 365.3l9.2 18h-18.4zM1893.8 365l9.2 18h-18.4zM1899.3 364.7l9.2 18h-18.4zM1904.8 364.4l9.2 18h-18.4zM1910.3 364.2l9.2 18h-18.4zM1915.8 363.9l9.2 18h-18.4zM1921.3 363.6l9.2 18h-18.4zM1926.8 363.3l9.2 18h-18.4zM1932.3 363l9.2 18h-18.4zM1937.8 362.7l9.2 18h-18.4zM1943.3 362.4l9.2 18h-18.4zM1948.8 362.1l9.2 18h-18.4zM1954.3 361.8l9.2 18h-18.4zM1959.7 361.5l9.2 18h-18.4zM1965.2 361.2l9.2 18h-18.4zM1970.7 360.9l9.2 18h-18.4zM1976.2 360.6l9.2 18h-18.4zM1981.7 360.3l9.2 18h-18.4zM1987.2 360.1l9.2 18h-18.4zM1992.7 359.7l9.2 18h-18.4zM1998.2 359.2l9.2 18h-18.4zM2003.7 358.7l9.2 18h-18.4zM2009.2 358.3l9.2 18h-18.4zM2014.7 357.8l9.2 18h-18.4zM2020.2 357.3l9.2 18h-18.4zM2025.7 356.9l9.2 18h-18.4zM2031.2 356.4l9.2 18h-18.4zM2036.7 356l9.2 18h-18.4zM2042.2 355.5l9.2 18h-18.4zM2047.7 355l9.2 18h-18.4zM2053.1 354.6l9.2 18h-18.4zM2058.6 354.1l9.2 18h-18.4zM2064.1 353.6l9.2 18h-18.4zM2069.6 353.2l9.2 18h-18.4zM2075.1 352.7l9.2 18h-18.4zM2080.6 352.2l9.2 18h-18.4zM2086.1 351.8l9.2 18h-18.4zM2091.6 351.3l9.2 18h-18.4zM2097.1 350.8l9.2 18h-18.4zM2102.6 350.4l9.2 18h-18.4zM2108.1 349.9l9.2 18h-18.4zM2113.6 349.4l9.2 18h-18.4zM2119.1 349l9.2 18h-18.4zM2124.6 348.5l9.2 18h-18.4zM2130.1 348l9.2 18h-18.4zM2135.6 347.6l9.2 18h-18.4zM2141.1 347.1l9.2 18h-18.4zM2146.5 346.4l9.2 18h-18.4zM2152 345.6l9.2 18h-18.4zM2157.5 344.9l9.2 18h-18.4zM2163 344.2l9.2 18h-18.4zM2168.5 343.4l9.2 18h-18.4zM2174 342.7l9.2 18h-18.4zM2179.5 342l9.2 18h-18.4zM2185 341.2l9.2 18h-18.4zM2190.5 340.5l9.2 18h-18.4zM2196 339.8l9.2 18h-18.4zM2201.5 338.3l9.2 18h-18.4zM2207 336.9l9.2 18h-18.4zM2212.5 335.4l9.2 18h-18.4zM2218 333.9l9.2 18h-18.4zM2223.5 332.3l9.2 18h-18.4zM2229 330.5l9.2 18h-18.4zM2234.4 328.7l9.2 18h-18.4zM2239.9 327l9.2 18h-18.4zM2245.4 324.7l9.2 18h-18.4zM2250.9 322.3l9.2 18h-18.4z" fill="#00c000"/>
<path d="M1476.3 573.2V575.3M1481.8 573.1V575.3M1487.3 573.1V575.4M1492.8 573V575.5M1498.3 572.9V575.6M1503.7 572.8V575.6M1509.2 572.8V575.7M1514.7 572.7V575.8M1520.2 571.9V575.1M1525.7 571.1V574.5M1531.2 569.2V572.7M1536.7 567.3V570.9M1542.2 563.1V568.6M1547.7 558.3V565.8M1553.2 551.4V560.8M1558.7 544.5V555.8M1564.2 535.1V548.3M1569.7 524.5V540.7M1575.2 507.3V526.3M1580.7 489.5V511.5M1586.2 469V492.9M1591.6 446V471.9M1597.1 432.2V460M1602.6 431.7V459.5M1608.1 431.1V459M1613.6 430.5V458.4M1619.1 430V457.9M1624.6 429.6V457.6M1630.1 429.3V457.2M1635.6 429V456.9M1641.1 428.6V456.6M1646.6 428.3V456.3M1652.1 427.9V456M1657.6 427.6V455.6M1663.1 427.3V455.3M1668.6 426.9V455M1674.1 426.6V454.7M1679.6 426.2V454.4M1685 425.9V454M1690.5 425.6V453.7M1696 425.2V453.4M1701.5 424.9V453.1M1707 424.5V452.8M1712.5 424.2V452.4M1718 423.9V452.1M1723.5 423.5V451.8M1729 423.2V451.5M1734.5 422.8V451.2M1740 422.5V450.8M1745.5 422.1V450.5M1751 421.8V450.2M1756.5 421.5V449.9M1762 421.1V449.6M1767.5 420.8V449.2M1773 420.4V448.9M1778.4 420.1V448.6M1783.9 419.8V448.3M1789.4 419.4V448M1794.9 415V439.9M1800.4 414.9V439.5M1805.9 414.7V439.1M1811.4 414.5V438.7M1816.9 414.3V438.3M1822.4 414.2V437.8M1827.9 414V437.4M1833.4 413.8V437M1838.9 413.7V436.6M1844.4 413.5V436.2M1849.9 413.3V435.8M1855.4 413.1V435.4M1860.9 413V434.9M1866.3 412.8V434.6M1871.8 412.5V434.2M1877.3 412.3V433.8M1882.8 412V433.4M1888.3 411.8V433M1893.8 411.5V432.6M1899.3 411.3V432.2M1904.8 411V431.8M1910.3 410.8V431.5M1915.8 410.5V431.1M1921.3 410.3V430.7M1926.8 410.1V430.3M1932.3 409.8V429.9M1937.8 409.6V429.5M1943.3 409.3V429.1M1948.8 409.1V428.7M1954.3 408.8V428.3M1959.7 408.6V427.9M1965.2 408.3V427.5M1970.7 408.1V427.1M1976.2 407.8V426.8M1981.7 407.6V426.4M1987.2 407.3V426M1992.7 407.1V425.6M1998.2 406.8V425.2M2003.7 406.6V424.8M2009.2 406.3V424.4M2014.7 406V424M2020.2 405.8V423.6M2025.7 405.5V423.1M2031.2 405.2V422.8M2036.7 404.9V422.4M2042.2 404.6V422M2047.7 404.3V421.7M2053.1 404V421.3M2058.6 403.7V420.9M2064.1 403.4V420.6M2069.6 403.1V420.2M2075.1 402.8V419.8M2080.6 402.6V419.4M2086.1 402.3V419.1M2091.6 402V418.7M2097.1 401.7V418.3M2102.6 401.4V418M2108.1 401.1V417.6M2113.6 400.8V417.2M2119.1 400.5V416.9M2124.6 400.2V416.5M2130.1 399.9V416.1M2135.6 399.6V415.8M2141.1 399.3V415.4M2146.5 398.9V415M2152 398.5V414.5M2157.5 398.2V414.1M2163 397.8V413.7M2168.5 397.5V413.2M2174 397.1V412.8M2179.5 396.7V412.3M2185 396.4V411.9M2190.5 396V411.5M2196 395.6V411M2201.5 395.3V410.6M2207 394.9V410.2M2212.5 394.5V409.7M2218 394.2V409.3M2223.5 393.8V408.9M2229 393.4V408.4M2234.4 393.1V408M2239.9 392.7V407.6M2245.4 392.3V407.1M2250.9 392V406.7" fill="none" stroke="#ff0000" stroke-width="2.4"/>
<path d="M1464.8 573.2h23M1464.8 575.3h23M1470.3 573.1h23M1470.3 575.3h23M1475.8 573.1h23M1475.8 575.4h23M1481.3 573h23M1481.3 575.5h23M1486.8 572.9h23M1486.8 575.6h23M1492.2 572.8h23M1492.2 575.6h23M1497.7 572.8h23M1497.7 575.7h23M1503.2 572.7h23M1503.2 575.8h23M1508.7 571.9h23M1508.7 575.1h23M1514.2 571.1h23M1514.2 574.5h23M1519.7 569.2h23M1519.7 572.7h23M1525.2 567.3h23M1525.2 570.9h23M1530.7 563.1h23M1530.7 568.6h23M1536.2 558.3h23M1536.2 565.8h23M1541.7 551.4h23M1541.7 560.8h23M1547.2 544.5h23M1547.2 555.8h23M1552.7 535.1h23M1552.7 548.3h23M1558.2 524.5h23M1558.2 540.7h23M1563.7 507.3h23M1563.7 526.3h23M1569.2 489.5h23M1569.2 511.5h23M1574.7 469h23M1574.7 492.9h23M1580.1 446h23M1580.1 471.9h23M1585.6 432.2h23M1585.6 460h23M1591.1 431.7h23M1591.1 459.5h23M1596.6 431.1h23M1596.6 459h23M1602.1 430.5h23M1602.1 458.4h23M1607.6 430h23M1607.6 457.9h23M1613.1 429.6h23M1613.1 457.6h23M1618.6 429.3h23M1618.6 457.2h23M1624.1 429h23M1624.1 456.9h23M1629.6 428.6h23M1629.6 456.6h23M1635.1 428.3h23M1635.1 456.3h23M1640.6 427.9h23M1640.6 456h23M1646.1 427.6h23M1646.1 455.6h23M1651.6 427.3h23M1651.6 455.3h23M1657.1 426.9h23M1657.1 455h23M1662.6 426.6h23M1662.6 454.7h23M1668.1 426.2h23M1668.1 454.4h23M1673.5 425.9h23M1673.5 454h23M1679 425.6h23M1679 453.7h23M1684.5 425.2h23M1684.5 453.4h23M1690 424.9h23M1690 453.1h23M1695.5 424.5h23M1695.5 452.8h23M1701 424.2h23M1701 452.4h23M1706.5 423.9h23M1706.5 452.1h23M1712 423.5h23M1712 451.8h23M1717.5 423.2h23M1717.5 451.5h23M1723 422.8h23M1723 451.2h23M1728.5 422.5h23M1728.5 450.8h23M1734 422.1h23M1734 450.5h23M1739.5 421.8h23M1739.5 450.2h23M1745 421.5h23M1745 449.9h23M1750.5 421.1h23M1750.5 449.6h23M1756 420.8h23M1756 449.2h23M1761.5 420.4h23M1761.5 448.9h23M1766.9 420.1h23M1766.9 448.6h23M1772.4 419.8h23M1772.4 448.3h23M1777.9 419.4h23M1777.9 448h23M1783.4 415h23M1783.4 439.9h23M1788.9 414.9h23M1788.9 439.5h23M1794.4 414.7h23M1794.4 439.1h23M1799.9 414.5h23M1799.9 438.7h23M1805.4 414.3h23M1805.4 438.3h23M1810.9 414.2h23M1810.9 437.8h23M1816.4 414h23M1816.4 437.4h23M1821.9 413.8h23M1821.9 437h23M1827.4 413.7h23M1827.4 436.6h23M1832.9 413.5h23M1832.9 436.2h23M1838.4 413.3h23M1838.4 435.8h23M1843.9 413.1h23M1843.9 435.4h23M1849.4 413h23M1849.4 434.9h23M1854.8 412.8h23M1854.8 434.6h23M1860.3 412.5h23M1860.3 434.2h23M1865.8 412.3h23M1865.8 433.8h23M1871.3 412h23M1871.3 433.4h23M1876.8 411.8h23M1876.8 433h23M1882.3 411.5h23M1882.3 432.6h23M1887.8 411.3h23M1887.8 432.2h23M1893.3 411h23M1893.3 431.8h23M1898.8 410.8h23M1898.8 431.5h23M1904.3 410.5h23M1904.3 431.1h23M1909.8 410.3h23M1909.8 430.7h23M1915.3 410.1h23M1915.3 430.3h23M1920.8 409.8h23M1920.8 429.9h23M1926.3 409.6h23M1926.3 429.5h23M1931.8 409.3h23M1931.8 429.1h23M1937.3 409.1h23M1937.3 428.7h23M1942.8 408.8h23M1942.8 428.3h23M1948.2 408.6h23M1948.2 427.9h23M1953.7 408.3h23M1953.7 427.5h23M1959.2 408.1h23M1959.2 427.1h23M1964.7 407.8h23M1964.7 426.8h23M1970.2 407.6h23M1970.2 426.4h23M1975.7 407.3h23M1975.7 426h23M1981.2 407.1h23M1981.2 425.6h23M1986.7 406.8h23M1986.7 425.2h23M1992.2 406.6h23M1992.2 424.8h23M1997.7 406.3h23M1997.7 424.4h23M2003.2 406h23M2003.2 424h23M2008.7 405.8h23M2008.7 423.6h23M2014.2 405.5h23M2014.2 423.1h23M2019.7 405.2h23M2019.7 422.8h23M2025.2 404.9h23M2025.2 422.4h23M2030.7 404.6h23M2030.7 422h23M2036.2 404.3h23M2036.2 421.7h23M2041.6 404h23M2041.6 421.3h23M2047.1 403.7h23M2047.1 420.9h23M2052.6 403.4h23M2052.6 420.6h23M2058.1 403.1h23M2058.1 420.2h23M2063.6 402.8h23M2063.6 419.8h23M2069.1 402.6h23M2069.1 419.4h23M2074.6 402.3h23M2074.6 419.1h23M2080.1 402h23M2080.1 418.7h23M2085.6 401.7h23M2085.6 418.3h23M2091.1 401.4h23M2091.1 418h23M2096.6 401.1h23M2096.6 417.6h23M2102.1 400.8h23M2102.1 417.2h23M2107.6 400.5h23M2107.6 416.9h23M2113.1 400.2h23M2113.1 416.5h23M2118.6 399.9h23M2118.6 416.1h23M2124.1 399.6h23M2124.1 415.8h23M2129.6 399.3h23M2129.6 415.4h23M2135 398.9h23M2135 415h23M2140.5 398.5h23M2140.5 414.5h23M2146 398.2h23M2146 414.1h23M2151.5 397.8h23M2151.5 413.7h23M2157 397.5h23M2157 413.2h23M2162.5 397.1h23M2162.5 412.8h23M2168 396.7h23M2168 412.3h23M2173.5 396.4h23M2173.5 411.9h23M2179 396h23M2179 411.5h23M2184.5 395.6h23M2184.5 411h23M2190 395.3h23M2190 410.6h23M2195.5 394.9h23M2195.5 410.2h23M2201 394.5h23M2201 409.7h23M2206.5 394.2h23M2206.5 409.3h23M2212 393.8h23M2212 408.9h23M2217.5 393.4h23M2217.5 408.4h23M2222.9 393.1h23M2222.9 408h23M2228.4 392.7h23M2228.4 407.6h23M2233.9 392.3h23M2233.9 407.1h23M2239.4 392h23M2239.4 406.7h23" fill="none" stroke="#ff0000" stroke-width="2.2"/>
<polyline points="1454.3,574.2 1459.8,574.2 1465.3,574.2 1470.8,574.2 1476.3,574.2 1481.8,574.2 1487.3,574.2 1492.8,574.2 1498.3,574.2 1503.7,574.2 1509.2,574.2 1514.7,574.2 1520.2,573.5 1525.7,572.8 1531.2,570.9 1536.7,569.1 1542.2,565.9 1547.7,562.1 1553.2,556.1 1558.7,550.2 1564.2,541.7 1569.7,532.6 1575.2,516.8 1580.7,500.5 1586.2,480.9 1591.6,459 1597.1,446.1 1602.6,445.6 1608.1,445 1613.6,444.5 1619.1,443.9 1624.6,443.6 1630.1,443.3 1635.6,442.9 1641.1,442.6 1646.6,442.3 1652.1,442 1657.6,441.6 1663.1,441.3 1668.6,441 1674.1,440.6 1679.6,440.3 1685,440 1690.5,439.6 1696,439.3 1701.5,439 1707,438.7 1712.5,438.3 1718,438 1723.5,437.7 1729,437.3 1734.5,437 1740,436.7 1745.5,436.3 1751,436 1756.5,435.7 1762,435.3 1767.5,435 1773,434.7 1778.4,434.4 1783.9,434 1789.4,433.7 1794.9,427.5 1800.4,427.2 1805.9,426.9 1811.4,426.6 1816.9,426.3 1822.4,426 1827.9,425.7 1833.4,425.4 1838.9,425.1 1844.4,424.8 1849.9,424.5 1855.4,424.2 1860.9,424 1866.3,423.7 1871.8,423.4 1877.3,423 1882.8,422.7 1888.3,422.4 1893.8,422.1 1899.3,421.8 1904.8,421.4 1910.3,421.1 1915.8,420.8 1921.3,420.5 1926.8,420.2 1932.3,419.8 1937.8,419.5 1943.3,419.2 1948.8,418.9 1954.3,418.6 1959.7,418.2 1965.2,417.9 1970.7,417.6 1976.2,417.3 1981.7,417 1987.2,416.6 1992.7,416.3 1998.2,416 2003.7,415.7 2009.2,415.3 2014.7,415 2020.2,414.7 2025.7,414.3 2031.2,414 2036.7,413.7 2042.2,413.3 2047.7,413 2053.1,412.7 2058.6,412.3 2064.1,412 2069.6,411.7 2075.1,411.3 2080.6,411 2086.1,410.7 2091.6,410.3 2097.1,410 2102.6,409.7 2108.1,409.3 2113.6,409 2119.1,408.7 2124.6,408.3 2130.1,408 2135.6,407.7 2141.1,407.3 2146.5,406.9 2152,406.5 2157.5,406.1 2163,405.7 2168.5,405.3 2174,404.9 2179.5,404.5 2185,404.1 2190.5,403.7 2196,403.3 2201.5,402.9 2207,402.5 2212.5,402.1 2218,401.7 2223.5,401.3 2229,400.9 2234.4,400.5 2239.9,400.1 2245.4,399.7 2250.9,399.3" fill="none" stroke="#ff0000" stroke-width="5.4" stroke-linejoin="round"/>
<path d="M1444.5 564.4h19.6v19.6h-19.6zM1450 564.4h19.6v19.6h-19.6zM1455.5 564.4h19.6v19.6h-19.6zM1461 564.4h19.6v19.6h-19.6zM1466.5 564.4h19.6v19.6h-19.6zM1472 564.4h19.6v19.6h-19.6zM1477.5 564.4h19.6v19.6h-19.6zM1483 564.4h19.6v19.6h-19.6zM1488.5 564.4h19.6v19.6h-19.6zM1493.9 564.4h19.6v19.6h-19.6zM1499.4 564.4h19.6v19.6h-19.6zM1504.9 564.4h19.6v19.6h-19.6zM1510.4 563.7h19.6v19.6h-19.6zM1515.9 563h19.6v19.6h-19.6zM1521.4 561.1h19.6v19.6h-19.6zM1526.9 559.3h19.6v19.6h-19.6zM1532.4 556.1h19.6v19.6h-19.6zM1537.9 552.3h19.6v19.6h-19.6zM1543.4 546.3h19.6v19.6h-19.6zM1548.9 540.4h19.6v19.6h-19.6zM1554.4 531.9h19.6v19.6h-19.6zM1559.9 522.8h19.6v19.6h-19.6zM1565.4 507h19.6v19.6h-19.6zM1570.9 490.7h19.6v19.6h-19.6zM1576.4 471.1h19.6v19.6h-19.6zM1581.8 449.2h19.6v19.6h-19.6zM1587.3 436.3h19.6v19.6h-19.6zM1592.8 435.8h19.6v19.6h-19.6zM1598.3 435.2h19.6v19.6h-19.6zM1603.8 434.7h19.6v19.6h-19.6zM1609.3 434.1h19.6v19.6h-19.6zM1614.8 433.8h19.6v19.6h-19.6zM1620.3 433.5h19.6v19.6h-19.6zM1625.8 433.1h19.6v19.6h-19.6zM1631.3 432.8h19.6v19.6h-19.6zM1636.8 432.5h19.6v19.6h-19.6zM1642.3 432.2h19.6v19.6h-19.6zM1647.8 431.8h19.6v19.6h-19.6zM1653.3 431.5h19.6v19.6h-19.6zM1658.8 431.2h19.6v19.6h-19.6zM1664.3 430.8h19.6v19.6h-19.6zM1669.8 430.5h19.6v19.6h-19.6zM1675.2 430.2h19.6v19.6h-19.6zM1680.7 429.8h19.6v19.6h-19.6zM1686.2 429.5h19.6v19.6h-19.6zM1691.7 429.2h19.6v19.6h-19.6zM1697.2 428.9h19.6v19.6h-19.6zM1702.7 428.5h19.6v19.6h-19.6zM1708.2 428.2h19.6v19.6h-19.6zM1713.7 427.9h19.6v19.6h-19.6zM1719.2 427.5h19.6v19.6h-19.6zM1724.7 427.2h19.6v19.6h-19.6zM1730.2 426.9h19.6v19.6h-19.6zM1735.7 426.5h19.6v19.6h-19.6zM1741.2 426.2h19.6v19.6h-19.6zM1746.7 425.9h19.6v19.6h-19.6zM1752.2 425.5h19.6v19.6h-19.6zM1757.7 425.2h19.6v19.6h-19.6zM1763.2 424.9h19.6v19.6h-19.6zM1768.6 424.6h19.6v19.6h-19.6zM1774.1 424.2h19.6v19.6h-19.6zM1779.6 423.9h19.6v19.6h-19.6zM1785.1 417.7h19.6v19.6h-19.6zM1790.6 417.4h19.6v19.6h-19.6zM1796.1 417.1h19.6v19.6h-19.6zM1801.6 416.8h19.6v19.6h-19.6zM1807.1 416.5h19.6v19.6h-19.6zM1812.6 416.2h19.6v19.6h-19.6zM1818.1 415.9h19.6v19.6h-19.6zM1823.6 415.6h19.6v19.6h-19.6zM1829.1 415.3h19.6v19.6h-19.6zM1834.6 415h19.6v19.6h-19.6zM1840.1 414.7h19.6v19.6h-19.6zM1845.6 414.4h19.6v19.6h-19.6zM1851.1 414.2h19.6v19.6h-19.6zM1856.5 413.9h19.6v19.6h-19.6zM1862 413.6h19.6v19.6h-19.6zM1867.5 413.2h19.6v19.6h-19.6zM1873 412.9h19.6v19.6h-19.6zM1878.5 412.6h19.6v19.6h-19.6zM1884 412.3h19.6v19.6h-19.6zM1889.5 412h19.6v19.6h-19.6zM1895 411.6h19.6v19.6h-19.6zM1900.5 411.3h19.6v19.6h-19.6zM1906 411h19.6v19.6h-19.6zM1911.5 410.7h19.6v19.6h-19.6zM1917 410.4h19.6v19.6h-19.6zM1922.5 410h19.6v19.6h-19.6zM1928 409.7h19.6v19.6h-19.6zM1933.5 409.4h19.6v19.6h-19.6zM1939 409.1h19.6v19.6h-19.6zM1944.5 408.8h19.6v19.6h-19.6zM1949.9 408.4h19.6v19.6h-19.6zM1955.4 408.1h19.6v19.6h-19.6zM1960.9 407.8h19.6v19.6h-19.6zM1966.4 407.5h19.6v19.6h-19.6zM1971.9 407.2h19.6v19.6h-19.6zM1977.4 406.8h19.6v19.6h-19.6zM1982.9 406.5h19.6v19.6h-19.6zM1988.4 406.2h19.6v19.6h-19.6zM1993.9 405.9h19.6v19.6h-19.6zM1999.4 405.5h19.6v19.6h-19.6zM2004.9 405.2h19.6v19.6h-19.6zM2010.4 404.9h19.6v19.6h-19.6zM2015.9 404.5h19.6v19.6h-19.6zM2021.4 404.2h19.6v19.6h-19.6zM2026.9 403.9h19.6v19.6h-19.6zM2032.4 403.5h19.6v19.6h-19.6zM2037.9 403.2h19.6v19.6h-19.6zM2043.3 402.9h19.6v19.6h-19.6zM2048.8 402.5h19.6v19.6h-19.6zM2054.3 402.2h19.6v19.6h-19.6zM2059.8 401.9h19.6v19.6h-19.6zM2065.3 401.5h19.6v19.6h-19.6zM2070.8 401.2h19.6v19.6h-19.6zM2076.3 400.9h19.6v19.6h-19.6zM2081.8 400.5h19.6v19.6h-19.6zM2087.3 400.2h19.6v19.6h-19.6zM2092.8 399.9h19.6v19.6h-19.6zM2098.3 399.5h19.6v19.6h-19.6zM2103.8 399.2h19.6v19.6h-19.6zM2109.3 398.9h19.6v19.6h-19.6zM2114.8 398.5h19.6v19.6h-19.6zM2120.3 398.2h19.6v19.6h-19.6zM2125.8 397.9h19.6v19.6h-19.6zM2131.2 397.5h19.6v19.6h-19.6zM2136.7 397.1h19.6v19.6h-19.6zM2142.2 396.7h19.6v19.6h-19.6zM2147.7 396.3h19.6v19.6h-19.6zM2153.2 395.9h19.6v19.6h-19.6zM2158.7 395.5h19.6v19.6h-19.6zM2164.2 395.1h19.6v19.6h-19.6zM2169.7 394.7h19.6v19.6h-19.6zM2175.2 394.3h19.6v19.6h-19.6zM2180.7 393.9h19.6v19.6h-19.6zM2186.2 393.5h19.6v19.6h-19.6zM2191.7 393.1h19.6v19.6h-19.6zM2197.2 392.7h19.6v19.6h-19.6zM2202.7 392.3h19.6v19.6h-19.6zM2208.2 391.9h19.6v19.6h-19.6zM2213.7 391.5h19.6v19.6h-19.6zM2219.2 391.1h19.6v19.6h-19.6zM2224.6 390.7h19.6v19.6h-19.6zM2230.1 390.3h19.6v19.6h-19.6zM2235.6 389.9h19.6v19.6h-19.6zM2241.1 389.5h19.6v19.6h-19.6z" fill="#ff0000"/>
<path d="M1470.8 573.2V575.2M1476.3 573.1V575.3M1481.8 573V575.4M1487.3 573V575.5M1492.8 572.9V575.6M1498.3 572.8V575.7M1503.7 571.9V575.1M1509.2 569.7V573M1514.7 563V566.5M1520.2 553V556.7M1525.7 537.1V543.2M1531.2 512.9V521.4M1536.7 476.1V487.1M1542.2 424V440.5M1547.7 361.2V383.2M1553.2 314.7V358.7M1558.7 299.4V354.3M1564.2 296.8V352.4M1569.7 295.9V352.3M1575.2 295.1V352.1M1580.7 294.5V351.7M1586.2 294V351.2M1591.6 293.4V350.7M1597.1 292.9V350.2M1602.6 292.3V349.8M1608.1 291.8V349.3M1613.6 291.2V348.8M1619.1 290.7V348.3M1624.6 290.2V347.9M1630.1 289.7V347.5M1635.6 289.2V347M1641.1 288.7V346.6M1646.6 288.2V346.2M1652.1 287.7V345.7M1657.6 287.2V345.3M1663.1 286.7V344.9M1668.6 286.2V344.4M1674.1 285.7V344M1679.6 285.1V343.6M1685 284.6V343.1M1690.5 284.1V342.7M1696 283.8V342.3M1701.5 283.4V341.9M1707 283V341.5M1712.5 282.6V341.1M1718 282.2V340.7M1723.5 281.8V340.3M1729 281.4V340M1734.5 281V339.6M1740 280.6V339.2M1745.5 280.2V338.8M1751 279.8V338.4M1756.5 279.4V338M1762 279V337.6M1767.5 278.6V337.2M1773 278.2V336.8M1778.4 277.9V336.4M1783.9 277.5V336M1789.4 277.1V335.6M1794.9 276.7V335.2M1800.4 271.2V334.1M1805.9 271V333.9M1811.4 270.7V333.7M1816.9 270.5V333.4M1822.4 270.2V333.2M1827.9 270V333M1833.4 269.8V332.7M1838.9 269.5V332.5M1844.4 269.3V332.2M1849.9 269.1V332M1855.4 268.8V331.8M1860.9 268.6V331.5M1866.3 268.3V331.3M1871.8 268.1V331.1M1877.3 267.9V330.8M1882.8 267.6V330.6M1888.3 267.4V330.4M1893.8 267.2V330.1M1899.3 267V329.9M1904.8 266.7V329.7M1910.3 266.5V329.5M1915.8 266.3V329.3M1921.3 266.1V329.1M1926.8 265.9V328.9M1932.3 265.7V328.7M1937.8 265.5V328.4M1943.3 265.3V328.2M1948.8 265.1V328M1954.3 264.9V327.8M1959.7 264.7V327.6M1965.2 264.4V327.4M1970.7 264.2V327.2M1976.2 264V327M1981.7 263.8V326.8M1987.2 263.6V326.6M1992.7 263.3V326.2M1998.2 263V325.7M2003.7 262.6V325.2M2009.2 262.2V324.6M2014.7 261.9V324.1M2020.2 261.5V323.6M2025.7 261.2V323.1M2031.2 260.8V322.6M2036.7 260.4V322M2042.2 260.1V321.5M2047.7 259.7V321M2053.1 259.4V320.5M2058.6 259V320M2064.1 258.7V319.4M2069.6 258.3V318.9M2075.1 257.9V318.4M2080.6 257.6V317.9M2086.1 257.2V317.4M2091.6 256.9V316.9M2097.1 256.5V316.3M2102.6 256.1V315.8M2108.1 255.8V315.3M2113.6 255.4V314.8M2119.1 255.1V314.3M2124.6 254.7V313.7M2130.1 254.3V313.2M2135.6 254V312.7M2141.1 253.6V312.2M2146.5 253.3V311.5M2152 253V310.9M2157.5 252.7V310.2M2163 252.4V309.6M2168.5 252.1V308.9M2174 251.8V308.2M2179.5 251.5V307.6M2185 251.2V306.9M2190.5 250.9V306.3M2196 250.6V305.6M2201.5 250.2V305M2207 249.9V304.3M2212.5 249.6V303.7M2218 249.3V303M2223.5 249V302.4M2229 248.7V301.7M2234.4 248.4V301M2239.9 248.1V300.4M2245.4 247.8V299.7M2250.9 247.5V299.1" fill="none" stroke="#0000ff" stroke-width="2.2"/>
<path d="M1467.3 573.2h7M1467.3 575.2h7M1472.8 573.1h7M1472.8 575.3h7M1478.3 573h7M1478.3 575.4h7M1483.8 573h7M1483.8 575.5h7M1489.3 572.9h7M1489.3 575.6h7M1494.8 572.8h7M1494.8 575.7h7M1500.2 571.9h7M1500.2 575.1h7M1505.7 569.7h7M1505.7 573h7M1511.2 563h7M1511.2 566.5h7M1516.7 553h7M1516.7 556.7h7M1522.2 537.1h7M1522.2 543.2h7M1527.7 512.9h7M1527.7 521.4h7M1533.2 476.1h7M1533.2 487.1h7M1538.7 424h7M1538.7 440.5h7M1544.2 361.2h7M1544.2 383.2h7M1549.7 314.7h7M1549.7 358.7h7M1555.2 299.4h7M1555.2 354.3h7M1560.7 296.8h7M1560.7 352.4h7M1566.2 295.9h7M1566.2 352.3h7M1571.7 295.1h7M1571.7 352.1h7M1577.2 294.5h7M1577.2 351.7h7M1582.7 294h7M1582.7 351.2h7M1588.1 293.4h7M1588.1 350.7h7M1593.6 292.9h7M1593.6 350.2h7M1599.1 292.3h7M1599.1 349.8h7M1604.6 291.8h7M1604.6 349.3h7M1610.1 291.2h7M1610.1 348.8h7M1615.6 290.7h7M1615.6 348.3h7M1621.1 290.2h7M1621.1 347.9h7M1626.6 289.7h7M1626.6 347.5h7M1632.1 289.2h7M1632.1 347h7M1637.6 288.7h7M1637.6 346.6h7M1643.1 288.2h7M1643.1 346.2h7M1648.6 287.7h7M1648.6 345.7h7M1654.1 287.2h7M1654.1 345.3h7M1659.6 286.7h7M1659.6 344.9h7M1665.1 286.2h7M1665.1 344.4h7M1670.6 285.7h7M1670.6 344h7M1676.1 285.1h7M1676.1 343.6h7M1681.5 284.6h7M1681.5 343.1h7M1687 284.1h7M1687 342.7h7M1692.5 283.8h7M1692.5 342.3h7M1698 283.4h7M1698 341.9h7M1703.5 283h7M1703.5 341.5h7M1709 282.6h7M1709 341.1h7M1714.5 282.2h7M1714.5 340.7h7M1720 281.8h7M1720 340.3h7M1725.5 281.4h7M1725.5 340h7M1731 281h7M1731 339.6h7M1736.5 280.6h7M1736.5 339.2h7M1742 280.2h7M1742 338.8h7M1747.5 279.8h7M1747.5 338.4h7M1753 279.4h7M1753 338h7M1758.5 279h7M1758.5 337.6h7M1764 278.6h7M1764 337.2h7M1769.5 278.2h7M1769.5 336.8h7M1774.9 277.9h7M1774.9 336.4h7M1780.4 277.5h7M1780.4 336h7M1785.9 277.1h7M1785.9 335.6h7M1791.4 276.7h7M1791.4 335.2h7M1796.9 271.2h7M1796.9 334.1h7M1802.4 271h7M1802.4 333.9h7M1807.9 270.7h7M1807.9 333.7h7M1813.4 270.5h7M1813.4 333.4h7M1818.9 270.2h7M1818.9 333.2h7M1824.4 270h7M1824.4 333h7M1829.9 269.8h7M1829.9 332.7h7M1835.4 269.5h7M1835.4 332.5h7M1840.9 269.3h7M1840.9 332.2h7M1846.4 269.1h7M1846.4 332h7M1851.9 268.8h7M1851.9 331.8h7M1857.4 268.6h7M1857.4 331.5h7M1862.8 268.3h7M1862.8 331.3h7M1868.3 268.1h7M1868.3 331.1h7M1873.8 267.9h7M1873.8 330.8h7M1879.3 267.6h7M1879.3 330.6h7M1884.8 267.4h7M1884.8 330.4h7M1890.3 267.2h7M1890.3 330.1h7M1895.8 267h7M1895.8 329.9h7M1901.3 266.7h7M1901.3 329.7h7M1906.8 266.5h7M1906.8 329.5h7M1912.3 266.3h7M1912.3 329.3h7M1917.8 266.1h7M1917.8 329.1h7M1923.3 265.9h7M1923.3 328.9h7M1928.8 265.7h7M1928.8 328.7h7M1934.3 265.5h7M1934.3 328.4h7M1939.8 265.3h7M1939.8 328.2h7M1945.3 265.1h7M1945.3 328h7M1950.8 264.9h7M1950.8 327.8h7M1956.2 264.7h7M1956.2 327.6h7M1961.7 264.4h7M1961.7 327.4h7M1967.2 264.2h7M1967.2 327.2h7M1972.7 264h7M1972.7 327h7M1978.2 263.8h7M1978.2 326.8h7M1983.7 263.6h7M1983.7 326.6h7M1989.2 263.3h7M1989.2 326.2h7M1994.7 263h7M1994.7 325.7h7M2000.2 262.6h7M2000.2 325.2h7M2005.7 262.2h7M2005.7 324.6h7M2011.2 261.9h7M2011.2 324.1h7M2016.7 261.5h7M2016.7 323.6h7M2022.2 261.2h7M2022.2 323.1h7M2027.7 260.8h7M2027.7 322.6h7M2033.2 260.4h7M2033.2 322h7M2038.7 260.1h7M2038.7 321.5h7M2044.2 259.7h7M2044.2 321h7M2049.6 259.4h7M2049.6 320.5h7M2055.1 259h7M2055.1 320h7M2060.6 258.7h7M2060.6 319.4h7M2066.1 258.3h7M2066.1 318.9h7M2071.6 257.9h7M2071.6 318.4h7M2077.1 257.6h7M2077.1 317.9h7M2082.6 257.2h7M2082.6 317.4h7M2088.1 256.9h7M2088.1 316.9h7M2093.6 256.5h7M2093.6 316.3h7M2099.1 256.1h7M2099.1 315.8h7M2104.6 255.8h7M2104.6 315.3h7M2110.1 255.4h7M2110.1 314.8h7M2115.6 255.1h7M2115.6 314.3h7M2121.1 254.7h7M2121.1 313.7h7M2126.6 254.3h7M2126.6 313.2h7M2132.1 254h7M2132.1 312.7h7M2137.6 253.6h7M2137.6 312.2h7M2143 253.3h7M2143 311.5h7M2148.5 253h7M2148.5 310.9h7M2154 252.7h7M2154 310.2h7M2159.5 252.4h7M2159.5 309.6h7M2165 252.1h7M2165 308.9h7M2170.5 251.8h7M2170.5 308.2h7M2176 251.5h7M2176 307.6h7M2181.5 251.2h7M2181.5 306.9h7M2187 250.9h7M2187 306.3h7M2192.5 250.6h7M2192.5 305.6h7M2198 250.2h7M2198 305h7M2203.5 249.9h7M2203.5 304.3h7M2209 249.6h7M2209 303.7h7M2214.5 249.3h7M2214.5 303h7M2220 249h7M2220 302.4h7M2225.5 248.7h7M2225.5 301.7h7M2230.9 248.4h7M2230.9 301h7M2236.4 248.1h7M2236.4 300.4h7M2241.9 247.8h7M2241.9 299.7h7M2247.4 247.5h7M2247.4 299.1h7" fill="none" stroke="#0000ff" stroke-width="2.2"/>
<polyline points="1454.3,574.2 1459.8,574.2 1465.3,574.2 1470.8,574.2 1476.3,574.2 1481.8,574.2 1487.3,574.2 1492.8,574.2 1498.3,574.2 1503.7,573.5 1509.2,571.3 1514.7,564.7 1520.2,554.8 1525.7,540.2 1531.2,517.1 1536.7,481.6 1542.2,432.2 1547.7,372.2 1553.2,336.7 1558.7,326.8 1564.2,324.6 1569.7,324.1 1575.2,323.6 1580.7,323.1 1586.2,322.6 1591.6,322.1 1597.1,321.5 1602.6,321 1608.1,320.5 1613.6,320 1619.1,319.5 1624.6,319 1630.1,318.6 1635.6,318.1 1641.1,317.6 1646.6,317.2 1652.1,316.7 1657.6,316.2 1663.1,315.8 1668.6,315.3 1674.1,314.8 1679.6,314.4 1685,313.9 1690.5,313.4 1696,313 1701.5,312.6 1707,312.2 1712.5,311.9 1718,311.5 1723.5,311.1 1729,310.7 1734.5,310.3 1740,309.9 1745.5,309.5 1751,309.1 1756.5,308.7 1762,308.3 1767.5,307.9 1773,307.5 1778.4,307.1 1783.9,306.7 1789.4,306.4 1794.9,306 1800.4,302.7 1805.9,302.4 1811.4,302.2 1816.9,302 1822.4,301.7 1827.9,301.5 1833.4,301.2 1838.9,301 1844.4,300.8 1849.9,300.5 1855.4,300.3 1860.9,300.1 1866.3,299.8 1871.8,299.6 1877.3,299.3 1882.8,299.1 1888.3,298.9 1893.8,298.6 1899.3,298.4 1904.8,298.2 1910.3,298 1915.8,297.8 1921.3,297.6 1926.8,297.4 1932.3,297.2 1937.8,297 1943.3,296.8 1948.8,296.5 1954.3,296.3 1959.7,296.1 1965.2,295.9 1970.7,295.7 1976.2,295.5 1981.7,295.3 1987.2,295.1 1992.7,294.8 1998.2,294.3 2003.7,293.9 2009.2,293.4 2014.7,293 2020.2,292.6 2025.7,292.1 2031.2,291.7 2036.7,291.2 2042.2,290.8 2047.7,290.4 2053.1,289.9 2058.6,289.5 2064.1,289 2069.6,288.6 2075.1,288.2 2080.6,287.7 2086.1,287.3 2091.6,286.9 2097.1,286.4 2102.6,286 2108.1,285.5 2113.6,285.1 2119.1,284.7 2124.6,284.2 2130.1,283.8 2135.6,283.3 2141.1,282.9 2146.5,282.4 2152,281.9 2157.5,281.5 2163,281 2168.5,280.5 2174,280 2179.5,279.5 2185,279.1 2190.5,278.6 2196,278.1 2201.5,277.6 2207,277.1 2212.5,276.6 2218,276.2 2223.5,275.7 2229,275.2 2234.4,274.7 2239.9,274.2 2245.4,273.8 2250.9,273.3" fill="none" stroke="#0000ff" stroke-width="5.4" stroke-linejoin="round"/>
<path d="M1445.3 574.2a9 9 0 1 0 18 0a9 9 0 1 0 -18 0zM1450.8 574.2a9 9 0 1 0 18 0a9 9 0 1 0 -18 0zM1456.3 574.2a9 9 0 1 0 18 0a9 9 0 1 0 -18 0zM1461.8 574.2a9 9 0 1 0 18 0a9 9 0 1 0 -18 0zM1467.3 574.2a9 9 0 1 0 18 0a9 9 0 1 0 -18 0zM1472.8 574.2a9 9 0 1 0 18 0a9 9 0 1 0 -18 0zM1478.3 574.2a9 9 0 1 0 18 0a9 9 0 1 0 -18 0zM1483.8 574.2a9 9 0 1 0 18 0a9 9 0 1 0 -18 0zM1489.3 574.2a9 9 0 1 0 18 0a9 9 0 1 0 -18 0zM1494.7 573.5a9 9 0 1 0 18 0a9 9 0 1 0 -18 0zM1500.2 571.3a9 9 0 1 0 18 0a9 9 0 1 0 -18 0zM1505.7 564.7a9 9 0 1 0 18 0a9 9 0 1 0 -18 0zM1511.2 554.8a9 9 0 1 0 18 0a9 9 0 1 0 -18 0zM1516.7 540.2a9 9 0 1 0 18 0a9 9 0 1 0 -18 0zM1522.2 517.1a9 9 0 1 0 18 0a9 9 0 1 0 -18 0zM1527.7 481.6a9 9 0 1 0 18 0a9 9 0 1 0 -18 0zM1533.2 432.2a9 9 0 1 0 18 0a9 9 0 1 0 -18 0zM1538.7 372.2a9 9 0 1 0 18 0a9 9 0 1 0 -18 0zM1544.2 336.7a9 9 0 1 0 18 0a9 9 0 1 0 -18 0zM1549.7 326.8a9 9 0 1 0 18 0a9 9 0 1 0 -18 0zM1555.2 324.6a9 9 0 1 0 18 0a9 9 0 1 0 -18 0zM1560.7 324.1a9 9 0 1 0 18 0a9 9 0 1 0 -18 0zM1566.2 323.6a9 9 0 1 0 18 0a9 9 0 1 0 -18 0zM1571.7 323.1a9 9 0 1 0 18 0a9 9 0 1 0 -18 0zM1577.2 322.6a9 9 0 1 0 18 0a9 9 0 1 0 -18 0zM1582.6 322.1a9 9 0 1 0 18 0a9 9 0 1 0 -18 0zM1588.1 321.5a9 9 0 1 0 18 0a9 9 0 1 0 -18 0zM1593.6 321a9 9 0 1 0 18 0a9 9 0 1 0 -18 0zM1599.1 320.5a9 9 0 1 0 18 0a9 9 0 1 0 -18 0zM1604.6 320a9 9 0 1 0 18 0a9 9 0 1 0 -18 0zM1610.1 319.5a9 9 0 1 0 18 0a9 9 0 1 0 -18 0zM1615.6 319a9 9 0 1 0 18 0a9 9 0 1 0 -18 0zM1621.1 318.6a9 9 0 1 0 18 0a9 9 0 1 0 -18 0zM1626.6 318.1a9 9 0 1 0 18 0a9 9 0 1 0 -18 0zM1632.1 317.6a9 9 0 1 0 18 0a9 9 0 1 0 -18 0zM1637.6 317.2a9 9 0 1 0 18 0a9 9 0 1 0 -18 0zM1643.1 316.7a9 9 0 1 0 18 0a9 9 0 1 0 -18 0zM1648.6 316.2a9 9 0 1 0 18 0a9 9 0 1 0 -18 0zM1654.1 315.8a9 9 0 1 0 18 0a9 9 0 1 0 -18 0zM1659.6 315.3a9 9 0 1 0 18 0a9 9 0 1 0 -18 0zM1665.1 314.8a9 9 0 1 0 18 0a9 9 0 1 0 -18 0zM1670.6 314.4a9 9 0 1 0 18 0a9 9 0 1 0 -18 0zM1676 313.9a9 9 0 1 0 18 0a9 9 0 1 0 -18 0zM1681.5 313.4a9 9 0 1 0 18 0a9 9 0 1 0 -18 0zM1687 313a9 9 0 1 0 18 0a9 9 0 1 0 -18 0zM1692.5 312.6a9 9 0 1 0 18 0a9 9 0 1 0 -18 0zM1698 312.2a9 9 0 1 0 18 0a9 9 0 1 0 -18 0zM1703.5 311.9a9 9 0 1 0 18 0a9 9 0 1 0 -18 0zM1709 311.5a9 9 0 1 0 18 0a9 9 0 1 0 -18 0zM1714.5 311.1a9 9 0 1 0 18 0a9 9 0 1 0 -18 0zM1720 310.7a9 9 0 1 0 18 0a9 9 0 1 0 -18 0zM1725.5 310.3a9 9 0 1 0 18 0a9 9 0 1 0 -18 0zM1731 309.9a9 9 0 1 0 18 0a9 9 0 1 0 -18 0zM1736.5 309.5a9 9 0 1 0 18 0a9 9 0 1 0 -18 0zM1742 309.1a9 9 0 1 0 18 0a9 9 0 1 0 -18 0zM1747.5 308.7a9 9 0 1 0 18 0a9 9 0 1 0 -18 0zM1753 308.3a9 9 0 1 0 18 0a9 9 0 1 0 -18 0zM1758.5 307.9a9 9 0 1 0 18 0a9 9 0 1 0 -18 0zM1764 307.5a9 9 0 1 0 18 0a9 9 0 1 0 -18 0zM1769.4 307.1a9 9 0 1 0 18 0a9 9 0 1 0 -18 0zM1774.9 306.7a9 9 0 1 0 18 0a9 9 0 1 0 -18 0zM1780.4 306.4a9 9 0 1 0 18 0a9 9 0 1 0 -18 0zM1785.9 306a9 9 0 1 0 18 0a9 9 0 1 0 -18 0zM1791.4 302.7a9 9 0 1 0 18 0a9 9 0 1 0 -18 0zM1796.9 302.4a9 9 0 1 0 18 0a9 9 0 1 0 -18 0zM1802.4 302.2a9 9 0 1 0 18 0a9 9 0 1 0 -18 0zM1807.9 302a9 9 0 1 0 18 0a9 9 0 1 0 -18 0zM1813.4 301.7a9 9 0 1 0 18 0a9 9 0 1 0 -18 0zM1818.9 301.5a9 9 0 1 0 18 0a9 9 0 1 0 -18 0zM1824.4 301.2a9 9 0 1 0 18 0a9 9 0 1 0 -18 0zM1829.9 301a9 9 0 1 0 18 0a9 9 0 1 0 -18 0zM1835.4 300.8a9 9 0 1 0 18 0a9 9 0 1 0 -18 0zM1840.9 300.5a9 9 0 1 0 18 0a9 9 0 1 0 -18 0zM1846.4 300.3a9 9 0 1 0 18 0a9 9 0 1 0 -18 0zM1851.9 300.1a9 9 0 1 0 18 0a9 9 0 1 0 -18 0zM1857.3 299.8a9 9 0 1 0 18 0a9 9 0 1 0 -18 0zM1862.8 299.6a9 9 0 1 0 18 0a9 9 0 1 0 -18 0zM1868.3 299.3a9 9 0 1 0 18 0a9 9 0 1 0 -18 0zM1873.8 299.1a9 9 0 1 0 18 0a9 9 0 1 0 -18 0zM1879.3 298.9a9 9 0 1 0 18 0a9 9 0 1 0 -18 0zM1884.8 298.6a9 9 0 1 0 18 0a9 9 0 1 0 -18 0zM1890.3 298.4a9 9 0 1 0 18 0a9 9 0 1 0 -18 0zM1895.8 298.2a9 9 0 1 0 18 0a9 9 0 1 0 -18 0zM1901.3 298a9 9 0 1 0 18 0a9 9 0 1 0 -18 0zM1906.8 297.8a9 9 0 1 0 18 0a9 9 0 1 0 -18 0zM1912.3 297.6a9 9 0 1 0 18 0a9 9 0 1 0 -18 0zM1917.8 297.4a9 9 0 1 0 18 0a9 9 0 1 0 -18 0zM1923.3 297.2a9 9 0 1 0 18 0a9 9 0 1 0 -18 0zM1928.8 297a9 9 0 1 0 18 0a9 9 0 1 0 -18 0zM1934.3 296.8a9 9 0 1 0 18 0a9 9 0 1 0 -18 0zM1939.8 296.5a9 9 0 1 0 18 0a9 9 0 1 0 -18 0zM1945.3 296.3a9 9 0 1 0 18 0a9 9 0 1 0 -18 0zM1950.7 296.1a9 9 0 1 0 18 0a9 9 0 1 0 -18 0zM1956.2 295.9a9 9 0 1 0 18 0a9 9 0 1 0 -18 0zM1961.7 295.7a9 9 0 1 0 18 0a9 9 0 1 0 -18 0zM1967.2 295.5a9 9 0 1 0 18 0a9 9 0 1 0 -18 0zM1972.7 295.3a9 9 0 1 0 18 0a9 9 0 1 0 -18 0zM1978.2 295.1a9 9 0 1 0 18 0a9 9 0 1 0 -18 0zM1983.7 294.8a9 9 0 1 0 18 0a9 9 0 1 0 -18 0zM1989.2 294.3a9 9 0 1 0 18 0a9 9 0 1 0 -18 0zM1994.7 293.9a9 9 0 1 0 18 0a9 9 0 1 0 -18 0zM2000.2 293.4a9 9 0 1 0 18 0a9 9 0 1 0 -18 0zM2005.7 293a9 9 0 1 0 18 0a9 9 0 1 0 -18 0zM2011.2 292.6a9 9 0 1 0 18 0a9 9 0 1 0 -18 0zM2016.7 292.1a9 9 0 1 0 18 0a9 9 0 1 0 -18 0zM2022.2 291.7a9 9 0 1 0 18 0a9 9 0 1 0 -18 0zM2027.7 291.2a9 9 0 1 0 18 0a9 9 0 1 0 -18 0zM2033.2 290.8a9 9 0 1 0 18 0a9 9 0 1 0 -18 0zM2038.7 290.4a9 9 0 1 0 18 0a9 9 0 1 0 -18 0zM2044.1 289.9a9 9 0 1 0 18 0a9 9 0 1 0 -18 0zM2049.6 289.5a9 9 0 1 0 18 0a9 9 0 1 0 -18 0zM2055.1 289a9 9 0 1 0 18 0a9 9 0 1 0 -18 0zM2060.6 288.6a9 9 0 1 0 18 0a9 9 0 1 0 -18 0zM2066.1 288.2a9 9 0 1 0 18 0a9 9 0 1 0 -18 0zM2071.6 287.7a9 9 0 1 0 18 0a9 9 0 1 0 -18 0zM2077.1 287.3a9 9 0 1 0 18 0a9 9 0 1 0 -18 0zM2082.6 286.9a9 9 0 1 0 18 0a9 9 0 1 0 -18 0zM2088.1 286.4a9 9 0 1 0 18 0a9 9 0 1 0 -18 0zM2093.6 286a9 9 0 1 0 18 0a9 9 0 1 0 -18 0zM2099.1 285.5a9 9 0 1 0 18 0a9 9 0 1 0 -18 0zM2104.6 285.1a9 9 0 1 0 18 0a9 9 0 1 0 -18 0zM2110.1 284.7a9 9 0 1 0 18 0a9 9 0 1 0 -18 0zM2115.6 284.2a9 9 0 1 0 18 0a9 9 0 1 0 -18 0zM2121.1 283.8a9 9 0 1 0 18 0a9 9 0 1 0 -18 0zM2126.6 283.3a9 9 0 1 0 18 0a9 9 0 1 0 -18 0zM2132.1 282.9a9 9 0 1 0 18 0a9 9 0 1 0 -18 0zM2137.5 282.4a9 9 0 1 0 18 0a9 9 0 1 0 -18 0zM2143 281.9a9 9 0 1 0 18 0a9 9 0 1 0 -18 0zM2148.5 281.5a9 9 0 1 0 18 0a9 9 0 1 0 -18 0zM2154 281a9 9 0 1 0 18 0a9 9 0 1 0 -18 0zM2159.5 280.5a9 9 0 1 0 18 0a9 9 0 1 0 -18 0zM2165 280a9 9 0 1 0 18 0a9 9 0 1 0 -18 0zM2170.5 279.5a9 9 0 1 0 18 0a9 9 0 1 0 -18 0zM2176 279.1a9 9 0 1 0 18 0a9 9 0 1 0 -18 0zM2181.5 278.6a9 9 0 1 0 18 0a9 9 0 1 0 -18 0zM2187 278.1a9 9 0 1 0 18 0a9 9 0 1 0 -18 0zM2192.5 277.6a9 9 0 1 0 18 0a9 9 0 1 0 -18 0zM2198 277.1a9 9 0 1 0 18 0a9 9 0 1 0 -18 0zM2203.5 276.6a9 9 0 1 0 18 0a9 9 0 1 0 -18 0zM2209 276.2a9 9 0 1 0 18 0a9 9 0 1 0 -18 0zM2214.5 275.7a9 9 0 1 0 18 0a9 9 0 1 0 -18 0zM2220 275.2a9 9 0 1 0 18 0a9 9 0 1 0 -18 0zM2225.4 274.7a9 9 0 1 0 18 0a9 9 0 1 0 -18 0zM2230.9 274.2a9 9 0 1 0 18 0a9 9 0 1 0 -18 0zM2236.4 273.8a9 9 0 1 0 18 0a9 9 0 1 0 -18 0zM2241.9 273.3a9 9 0 1 0 18 0a9 9 0 1 0 -18 0z" fill="#0000ff"/>
<rect x="1040.1" y="61.5" width="58.9" height="5.4" rx="2" fill="#0000ff"/>
<path d="M1062.8 64.2a6.8 6.8 0 1 0 13.5 0a6.8 6.8 0 1 0 -13.5 0z" fill="#0000ff"/>
<text transform="translate(1130.5 78) scale(1 1.03)" class="lg">0%</text>
<rect x="1040.1" y="124.2" width="58.9" height="5.4" rx="2" fill="#ff0000"/>
<path d="M1062.8 120.2h13.5v13.5h-13.5z" fill="#ff0000"/>
<text transform="translate(1130.5 140.7) scale(1 1.03)" class="lg">3%</text>
<rect x="1040.1" y="187.7" width="58.9" height="5.4" rx="2" fill="#00c000"/>
<path d="M1069.5 183.7l6.8 13.4h-13.7z" fill="#00c000"/>
<text transform="translate(1130.5 204.2) scale(1 1.03)" class="lg">6%</text>
<rect x="2334.7" y="61.5" width="59.4" height="5.4" rx="2" fill="#0000ff"/>
<path d="M2355.1 64.2a9.3 9.3 0 1 0 18.6 0a9.3 9.3 0 1 0 -18.6 0z" fill="#0000ff"/>
<text transform="translate(2424.6 78) scale(1 1.03)" class="lg">0%</text>
<rect x="2326.5" y="126.6" width="58.9" height="5.4" rx="2" fill="#ff0000"/>
<path d="M2346.2 119.6h19.4v19.4h-19.4z" fill="#ff0000"/>
<text transform="translate(2430.3 143.1) scale(1 1.03)" class="lg">3%</text>
<rect x="2334.7" y="187.8" width="59.4" height="5.4" rx="2" fill="#00c000"/>
<path d="M2364.4 181.5l9.2 18h-18.4z" fill="#00c000"/>
<text transform="translate(2424.6 204.3) scale(1 1.03)" class="lg">6%</text>
<rect x="2334.7" y="250.5" width="59.4" height="5.4" rx="2" fill="#a608e6"/>
<path d="M2364.4 262.2l9.2 -18h-18.4z" fill="#a608e6"/>
<text transform="translate(2424.6 267) scale(1 1.03)" class="lg">9%</text>
</svg>
</body>
</html>
